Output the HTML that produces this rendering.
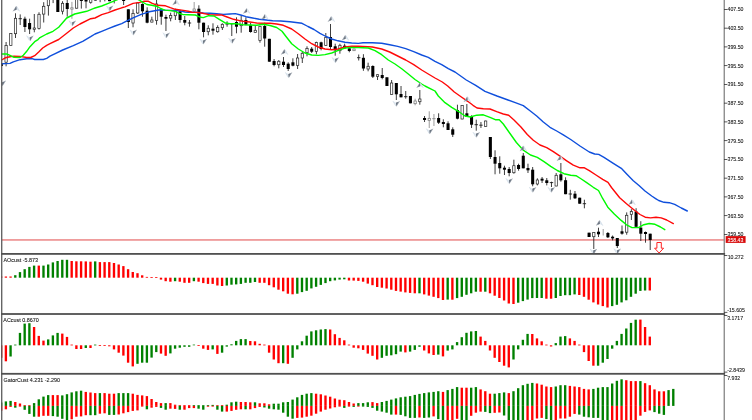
<!DOCTYPE html>
<html><head><meta charset="utf-8"><title>chart</title>
<style>html,body{margin:0;padding:0;background:#fff;overflow:hidden}svg{display:block}</style>
</head><body>
<svg width="752" height="420" viewBox="0 0 752 420">
<rect width="752" height="420" fill="#fff"/>
<defs><clipPath id="c"><rect x="1.2" y="0" width="723" height="420"/></clipPath></defs><g clip-path="url(#c)">
<rect x="2" y="239.35" width="722.5" height="1.2" fill="#e66868"/>
<line x1="1.4" y1="63" x2="1.4" y2="66" stroke="#1a1a1a" stroke-width="0.85"/>
<rect x="-0.12" y="63" width="3.05" height="3" fill="#000"/>
<line x1="6.1" y1="42" x2="6.1" y2="66.3" stroke="#1a1a1a" stroke-width="0.85"/>
<rect x="4.95" y="45.6" width="2.3" height="16.6" fill="#fff" stroke="#2a2a2a" stroke-width="0.72"/>
<line x1="10.8" y1="33.3" x2="10.8" y2="45.7" stroke="#1a1a1a" stroke-width="0.85"/>
<rect x="9.65" y="33.6" width="2.3" height="11.8" fill="#fff" stroke="#2a2a2a" stroke-width="0.72"/>
<line x1="15.5" y1="13.3" x2="15.5" y2="38" stroke="#1a1a1a" stroke-width="0.85"/>
<rect x="14.35" y="18.3" width="2.3" height="15.4" fill="#fff" stroke="#2a2a2a" stroke-width="0.72"/>
<line x1="20.21" y1="14.4" x2="20.21" y2="25" stroke="#1a1a1a" stroke-width="0.85"/>
<line x1="18.51" y1="18.7" x2="21.91" y2="18.7" stroke="#1a1a1a" stroke-width="0.9"/>
<line x1="24.91" y1="16.7" x2="24.91" y2="32" stroke="#1a1a1a" stroke-width="0.85"/>
<rect x="23.38" y="18.7" width="3.05" height="8.3" fill="#000"/>
<line x1="29.61" y1="18.7" x2="29.61" y2="34" stroke="#1a1a1a" stroke-width="0.85"/>
<rect x="28.08" y="23" width="3.05" height="6.3" fill="#000"/>
<line x1="34.31" y1="14" x2="34.31" y2="32.3" stroke="#1a1a1a" stroke-width="0.85"/>
<rect x="33.16" y="28" width="2.3" height="1.3" fill="#fff" stroke="#2a2a2a" stroke-width="0.72"/>
<line x1="39.01" y1="12.3" x2="39.01" y2="29.5" stroke="#1a1a1a" stroke-width="0.85"/>
<rect x="37.86" y="14.3" width="2.3" height="14.1" fill="#fff" stroke="#2a2a2a" stroke-width="0.72"/>
<line x1="43.71" y1="2.2" x2="43.71" y2="22.5" stroke="#1a1a1a" stroke-width="0.85"/>
<rect x="42.56" y="6.3" width="2.3" height="7.8" fill="#fff" stroke="#2a2a2a" stroke-width="0.72"/>
<line x1="48.41" y1="-5" x2="48.41" y2="15.6" stroke="#1a1a1a" stroke-width="0.85"/>
<rect x="47.27" y="-4.7" width="2.3" height="10.4" fill="#fff" stroke="#2a2a2a" stroke-width="0.72"/>
<line x1="53.12" y1="-10" x2="53.12" y2="3.1" stroke="#1a1a1a" stroke-width="0.85"/>
<line x1="51.42" y1="-8" x2="54.82" y2="-8" stroke="#1a1a1a" stroke-width="0.9"/>
<line x1="57.82" y1="-10" x2="57.82" y2="12" stroke="#1a1a1a" stroke-width="0.85"/>
<rect x="56.29" y="-10" width="3.05" height="22" fill="#000"/>
<line x1="62.52" y1="1.2" x2="62.52" y2="14.4" stroke="#1a1a1a" stroke-width="0.85"/>
<rect x="61.37" y="3.3" width="2.3" height="7.9" fill="#fff" stroke="#2a2a2a" stroke-width="0.72"/>
<line x1="67.22" y1="-1" x2="67.22" y2="16.7" stroke="#1a1a1a" stroke-width="0.85"/>
<rect x="65.7" y="3" width="3.05" height="6" fill="#000"/>
<line x1="71.92" y1="1.9" x2="71.92" y2="18.8" stroke="#8a8a8a" stroke-width="0.85"/>
<rect x="70.77" y="7.8" width="2.3" height="1.3" fill="#fff" stroke="#777" stroke-width="0.72"/>
<line x1="76.62" y1="-5" x2="76.62" y2="8.5" stroke="#1a1a1a" stroke-width="0.85"/>
<rect x="75.47" y="-4.7" width="2.3" height="12.9" fill="#fff" stroke="#2a2a2a" stroke-width="0.72"/>
<line x1="81.33" y1="-5" x2="81.33" y2="8.6" stroke="#1a1a1a" stroke-width="0.85"/>
<rect x="79.8" y="-5" width="3.05" height="6" fill="#000"/>
<line x1="86.03" y1="-5" x2="86.03" y2="8.3" stroke="#1a1a1a" stroke-width="0.85"/>
<rect x="84.5" y="-5" width="3.05" height="6.5" fill="#000"/>
<line x1="90.73" y1="-5" x2="90.73" y2="3.7" stroke="#1a1a1a" stroke-width="0.85"/>
<rect x="89.58" y="-4.7" width="2.3" height="7" fill="#fff" stroke="#2a2a2a" stroke-width="0.72"/>
<line x1="95.43" y1="-5" x2="95.43" y2="0.5" stroke="#1a1a1a" stroke-width="0.85"/>
<rect x="93.91" y="-5" width="3.05" height="5.5" fill="#000"/>
<line x1="100.13" y1="-10" x2="100.13" y2="2.2" stroke="#1a1a1a" stroke-width="0.85"/>
<line x1="98.43" y1="-8" x2="101.83" y2="-8" stroke="#1a1a1a" stroke-width="0.9"/>
<line x1="104.83" y1="-10" x2="104.83" y2="1.4" stroke="#1a1a1a" stroke-width="0.85"/>
<line x1="103.13" y1="-8" x2="106.53" y2="-8" stroke="#1a1a1a" stroke-width="0.9"/>
<line x1="109.53" y1="-5" x2="109.53" y2="1.2" stroke="#1a1a1a" stroke-width="0.85"/>
<rect x="108.01" y="-5" width="3.05" height="6.2" fill="#000"/>
<line x1="114.24" y1="-10" x2="114.24" y2="3.4" stroke="#1a1a1a" stroke-width="0.85"/>
<line x1="112.54" y1="-8" x2="115.94" y2="-8" stroke="#1a1a1a" stroke-width="0.9"/>
<line x1="123.64" y1="-5" x2="123.64" y2="5" stroke="#1a1a1a" stroke-width="0.85"/>
<rect x="122.11" y="-5" width="3.05" height="6" fill="#000"/>
<line x1="128.34" y1="9.3" x2="128.34" y2="28" stroke="#1a1a1a" stroke-width="0.85"/>
<rect x="126.82" y="9.3" width="3.05" height="12.7" fill="#000"/>
<line x1="133.04" y1="9.3" x2="133.04" y2="27.3" stroke="#1a1a1a" stroke-width="0.85"/>
<rect x="131.89" y="13.6" width="2.3" height="9.4" fill="#fff" stroke="#2a2a2a" stroke-width="0.72"/>
<line x1="137.74" y1="2" x2="137.74" y2="14" stroke="#1a1a1a" stroke-width="0.85"/>
<rect x="136.59" y="3" width="2.3" height="10" fill="#fff" stroke="#2a2a2a" stroke-width="0.72"/>
<line x1="142.45" y1="3.3" x2="142.45" y2="16.7" stroke="#1a1a1a" stroke-width="0.85"/>
<rect x="140.92" y="4" width="3.05" height="7.3" fill="#000"/>
<line x1="147.15" y1="7.3" x2="147.15" y2="23.3" stroke="#1a1a1a" stroke-width="0.85"/>
<rect x="145.62" y="10.7" width="3.05" height="12" fill="#000"/>
<line x1="151.85" y1="16.7" x2="151.85" y2="22.4" stroke="#1a1a1a" stroke-width="0.85"/>
<rect x="150.7" y="20" width="2.3" height="2.1" fill="#fff" stroke="#2a2a2a" stroke-width="0.72"/>
<line x1="156.55" y1="-2" x2="156.55" y2="24.7" stroke="#1a1a1a" stroke-width="0.85"/>
<rect x="155.4" y="4" width="2.3" height="16.4" fill="#fff" stroke="#2a2a2a" stroke-width="0.72"/>
<line x1="161.25" y1="9.3" x2="161.25" y2="24.7" stroke="#1a1a1a" stroke-width="0.85"/>
<rect x="159.73" y="10" width="3.05" height="6.7" fill="#000"/>
<line x1="165.95" y1="14.7" x2="165.95" y2="31" stroke="#1a1a1a" stroke-width="0.85"/>
<rect x="164.43" y="17" width="3.05" height="1.7" fill="#000"/>
<line x1="170.65" y1="12.7" x2="170.65" y2="21.3" stroke="#1a1a1a" stroke-width="0.85"/>
<rect x="169.5" y="15.6" width="2.3" height="2.5" fill="#fff" stroke="#2a2a2a" stroke-width="0.72"/>
<line x1="175.36" y1="8.7" x2="175.36" y2="20" stroke="#1a1a1a" stroke-width="0.85"/>
<rect x="174.21" y="11.6" width="2.3" height="4.1" fill="#fff" stroke="#2a2a2a" stroke-width="0.72"/>
<line x1="180.06" y1="10" x2="180.06" y2="22.7" stroke="#1a1a1a" stroke-width="0.85"/>
<rect x="178.53" y="11.3" width="3.05" height="8.7" fill="#000"/>
<line x1="184.76" y1="16" x2="184.76" y2="25.3" stroke="#1a1a1a" stroke-width="0.85"/>
<rect x="183.23" y="20" width="3.05" height="2.7" fill="#000"/>
<line x1="189.46" y1="20" x2="189.46" y2="26.7" stroke="#1a1a1a" stroke-width="0.85"/>
<line x1="187.76" y1="23" x2="191.16" y2="23" stroke="#1a1a1a" stroke-width="0.9"/>
<line x1="194.16" y1="2" x2="194.16" y2="12.7" stroke="#8a8a8a" stroke-width="0.85"/>
<rect x="193.01" y="9" width="2.3" height="2" fill="#fff" stroke="#777" stroke-width="0.72"/>
<line x1="198.86" y1="5.3" x2="198.86" y2="29.3" stroke="#1a1a1a" stroke-width="0.85"/>
<rect x="197.34" y="8.7" width="3.05" height="14" fill="#000"/>
<line x1="203.56" y1="22.7" x2="203.56" y2="37.3" stroke="#1a1a1a" stroke-width="0.85"/>
<rect x="202.04" y="22.7" width="3.05" height="9.3" fill="#000"/>
<line x1="208.27" y1="25.3" x2="208.27" y2="35.3" stroke="#1a1a1a" stroke-width="0.85"/>
<rect x="207.12" y="28.3" width="2.3" height="3.4" fill="#fff" stroke="#2a2a2a" stroke-width="0.72"/>
<line x1="212.97" y1="23.3" x2="212.97" y2="34.7" stroke="#1a1a1a" stroke-width="0.85"/>
<rect x="211.44" y="28.7" width="3.05" height="2" fill="#000"/>
<line x1="217.67" y1="25.3" x2="217.67" y2="32.7" stroke="#1a1a1a" stroke-width="0.85"/>
<rect x="216.52" y="27.6" width="2.3" height="4.1" fill="#fff" stroke="#2a2a2a" stroke-width="0.72"/>
<line x1="222.37" y1="23.3" x2="222.37" y2="30" stroke="#1a1a1a" stroke-width="0.85"/>
<rect x="221.22" y="24.3" width="2.3" height="3.4" fill="#fff" stroke="#2a2a2a" stroke-width="0.72"/>
<line x1="227.07" y1="21.3" x2="227.07" y2="26.7" stroke="#1a1a1a" stroke-width="0.85"/>
<line x1="225.37" y1="24" x2="228.77" y2="24" stroke="#1a1a1a" stroke-width="0.9"/>
<line x1="231.77" y1="23" x2="231.77" y2="36" stroke="#1a1a1a" stroke-width="0.85"/>
<line x1="230.07" y1="23.7" x2="233.47" y2="23.7" stroke="#1a1a1a" stroke-width="0.9"/>
<line x1="236.48" y1="17.3" x2="236.48" y2="33.3" stroke="#1a1a1a" stroke-width="0.85"/>
<rect x="234.95" y="22" width="3.05" height="4.7" fill="#000"/>
<line x1="241.18" y1="15.3" x2="241.18" y2="32.7" stroke="#1a1a1a" stroke-width="0.85"/>
<rect x="240.03" y="20.3" width="2.3" height="5.4" fill="#fff" stroke="#2a2a2a" stroke-width="0.72"/>
<line x1="245.88" y1="17.3" x2="245.88" y2="25.3" stroke="#1a1a1a" stroke-width="0.85"/>
<rect x="244.35" y="20" width="3.05" height="4.7" fill="#000"/>
<line x1="250.58" y1="22.7" x2="250.58" y2="32.7" stroke="#1a1a1a" stroke-width="0.85"/>
<rect x="249.05" y="25.3" width="3.05" height="6.7" fill="#000"/>
<line x1="255.28" y1="26" x2="255.28" y2="32.7" stroke="#1a1a1a" stroke-width="0.85"/>
<rect x="254.13" y="30.3" width="2.3" height="2.1" fill="#fff" stroke="#2a2a2a" stroke-width="0.72"/>
<line x1="259.98" y1="26" x2="259.98" y2="42.7" stroke="#1a1a1a" stroke-width="0.85"/>
<rect x="258.83" y="26.3" width="2.3" height="14.1" fill="#fff" stroke="#2a2a2a" stroke-width="0.72"/>
<line x1="264.68" y1="22.7" x2="264.68" y2="46.7" stroke="#1a1a1a" stroke-width="0.85"/>
<rect x="263.16" y="26" width="3.05" height="12.5" fill="#000"/>
<line x1="269.39" y1="38.8" x2="269.39" y2="61.7" stroke="#1a1a1a" stroke-width="0.85"/>
<rect x="267.86" y="38.8" width="3.05" height="22.9" fill="#000"/>
<line x1="274.09" y1="59" x2="274.09" y2="66.3" stroke="#1a1a1a" stroke-width="0.85"/>
<rect x="272.56" y="61" width="3.05" height="4" fill="#000"/>
<line x1="278.79" y1="60" x2="278.79" y2="68.3" stroke="#1a1a1a" stroke-width="0.85"/>
<rect x="277.64" y="61.3" width="2.3" height="3.4" fill="#fff" stroke="#2a2a2a" stroke-width="0.72"/>
<line x1="283.49" y1="57" x2="283.49" y2="67" stroke="#1a1a1a" stroke-width="0.85"/>
<rect x="281.97" y="61.7" width="3.05" height="3.3" fill="#000"/>
<line x1="288.19" y1="62.3" x2="288.19" y2="71" stroke="#1a1a1a" stroke-width="0.85"/>
<rect x="286.67" y="63.7" width="3.05" height="5.3" fill="#000"/>
<line x1="292.89" y1="58.3" x2="292.89" y2="66.3" stroke="#1a1a1a" stroke-width="0.85"/>
<rect x="291.37" y="62.3" width="3.05" height="3.4" fill="#000"/>
<line x1="297.59" y1="54" x2="297.59" y2="69" stroke="#1a1a1a" stroke-width="0.85"/>
<rect x="296.44" y="58" width="2.3" height="7.4" fill="#fff" stroke="#2a2a2a" stroke-width="0.72"/>
<line x1="302.3" y1="51.7" x2="302.3" y2="63" stroke="#1a1a1a" stroke-width="0.85"/>
<rect x="301.15" y="53.3" width="2.3" height="4.7" fill="#fff" stroke="#2a2a2a" stroke-width="0.72"/>
<line x1="307" y1="46.3" x2="307" y2="56.3" stroke="#1a1a1a" stroke-width="0.85"/>
<rect x="305.85" y="48.6" width="2.3" height="4.1" fill="#fff" stroke="#2a2a2a" stroke-width="0.72"/>
<line x1="311.7" y1="47" x2="311.7" y2="53" stroke="#1a1a1a" stroke-width="0.85"/>
<rect x="310.17" y="48.7" width="3.05" height="3" fill="#000"/>
<line x1="316.4" y1="41.7" x2="316.4" y2="54.3" stroke="#1a1a1a" stroke-width="0.85"/>
<rect x="315.25" y="42.6" width="2.3" height="8.8" fill="#fff" stroke="#2a2a2a" stroke-width="0.72"/>
<line x1="321.1" y1="41.7" x2="321.1" y2="50.3" stroke="#1a1a1a" stroke-width="0.85"/>
<rect x="319.58" y="42.3" width="3.05" height="6.7" fill="#000"/>
<line x1="325.8" y1="33" x2="325.8" y2="45.7" stroke="#1a1a1a" stroke-width="0.85"/>
<rect x="324.65" y="37.3" width="2.3" height="8.1" fill="#fff" stroke="#2a2a2a" stroke-width="0.72"/>
<line x1="330.5" y1="24" x2="330.5" y2="49.7" stroke="#1a1a1a" stroke-width="0.85"/>
<rect x="328.98" y="37" width="3.05" height="10" fill="#000"/>
<line x1="335.21" y1="43.7" x2="335.21" y2="55.7" stroke="#1a1a1a" stroke-width="0.85"/>
<rect x="333.68" y="46.3" width="3.05" height="4" fill="#000"/>
<line x1="339.91" y1="43.7" x2="339.91" y2="53.7" stroke="#1a1a1a" stroke-width="0.85"/>
<rect x="338.76" y="45.3" width="2.3" height="5.4" fill="#fff" stroke="#2a2a2a" stroke-width="0.72"/>
<line x1="344.61" y1="43.7" x2="344.61" y2="49" stroke="#1a1a1a" stroke-width="0.85"/>
<rect x="343.08" y="45.7" width="3.05" height="2.6" fill="#000"/>
<line x1="349.31" y1="48.3" x2="349.31" y2="52.3" stroke="#1a1a1a" stroke-width="0.85"/>
<rect x="347.79" y="48.3" width="3.05" height="2.7" fill="#000"/>
<line x1="354.01" y1="48.7" x2="354.01" y2="51" stroke="#8a8a8a" stroke-width="0.85"/>
<rect x="352.86" y="49" width="2.3" height="1.7" fill="#fff" stroke="#777" stroke-width="0.72"/>
<line x1="358.71" y1="54.5" x2="358.71" y2="60.5" stroke="#1a1a1a" stroke-width="0.85"/>
<line x1="357.01" y1="57.7" x2="360.41" y2="57.7" stroke="#1a1a1a" stroke-width="0.9"/>
<line x1="363.42" y1="54.2" x2="363.42" y2="70.8" stroke="#1a1a1a" stroke-width="0.85"/>
<rect x="361.89" y="57.8" width="3.05" height="10.7" fill="#000"/>
<line x1="368.12" y1="62.7" x2="368.12" y2="71.3" stroke="#1a1a1a" stroke-width="0.85"/>
<rect x="366.97" y="66.3" width="2.3" height="2.7" fill="#fff" stroke="#2a2a2a" stroke-width="0.72"/>
<line x1="372.82" y1="65.3" x2="372.82" y2="78" stroke="#1a1a1a" stroke-width="0.85"/>
<rect x="371.29" y="66" width="3.05" height="10.7" fill="#000"/>
<line x1="377.52" y1="74.4" x2="377.52" y2="80" stroke="#1a1a1a" stroke-width="0.85"/>
<rect x="376.37" y="74.7" width="2.3" height="1.7" fill="#fff" stroke="#2a2a2a" stroke-width="0.72"/>
<line x1="382.22" y1="68" x2="382.22" y2="79.3" stroke="#1a1a1a" stroke-width="0.85"/>
<rect x="380.7" y="75" width="3.05" height="3" fill="#000"/>
<line x1="386.92" y1="77.3" x2="386.92" y2="86" stroke="#1a1a1a" stroke-width="0.85"/>
<rect x="385.4" y="77.3" width="3.05" height="8.7" fill="#000"/>
<line x1="391.62" y1="80" x2="391.62" y2="94.7" stroke="#1a1a1a" stroke-width="0.85"/>
<rect x="390.47" y="83" width="2.3" height="11.4" fill="#fff" stroke="#2a2a2a" stroke-width="0.72"/>
<line x1="396.33" y1="83" x2="396.33" y2="100" stroke="#1a1a1a" stroke-width="0.85"/>
<rect x="394.8" y="83" width="3.05" height="11.3" fill="#000"/>
<line x1="401.03" y1="86" x2="401.03" y2="97.3" stroke="#1a1a1a" stroke-width="0.85"/>
<rect x="399.5" y="94" width="3.05" height="3.3" fill="#000"/>
<line x1="405.73" y1="91" x2="405.73" y2="98.7" stroke="#1a1a1a" stroke-width="0.85"/>
<line x1="404.03" y1="96.7" x2="407.43" y2="96.7" stroke="#1a1a1a" stroke-width="0.9"/>
<line x1="410.43" y1="96" x2="410.43" y2="103.3" stroke="#1a1a1a" stroke-width="0.85"/>
<rect x="408.91" y="96" width="3.05" height="7.3" fill="#000"/>
<line x1="415.13" y1="98.7" x2="415.13" y2="105.3" stroke="#8a8a8a" stroke-width="0.85"/>
<rect x="413.98" y="101" width="2.3" height="2.7" fill="#fff" stroke="#777" stroke-width="0.72"/>
<line x1="419.83" y1="90" x2="419.83" y2="104.7" stroke="#1a1a1a" stroke-width="0.85"/>
<rect x="418.68" y="99" width="2.3" height="2.7" fill="#fff" stroke="#2a2a2a" stroke-width="0.72"/>
<line x1="424.54" y1="116" x2="424.54" y2="122" stroke="#1a1a1a" stroke-width="0.85"/>
<rect x="423.01" y="118" width="3.05" height="2" fill="#000"/>
<line x1="429.24" y1="111.3" x2="429.24" y2="128" stroke="#8a8a8a" stroke-width="0.85"/>
<rect x="428.09" y="118.3" width="2.3" height="2.1" fill="#fff" stroke="#777" stroke-width="0.72"/>
<line x1="433.94" y1="114" x2="433.94" y2="126" stroke="#8a8a8a" stroke-width="0.85"/>
<line x1="432.24" y1="118.7" x2="435.64" y2="118.7" stroke="#8a8a8a" stroke-width="0.9"/>
<line x1="438.64" y1="113.3" x2="438.64" y2="124" stroke="#1a1a1a" stroke-width="0.85"/>
<rect x="437.11" y="118" width="3.05" height="4.7" fill="#000"/>
<line x1="443.34" y1="119.3" x2="443.34" y2="127.3" stroke="#1a1a1a" stroke-width="0.85"/>
<rect x="441.82" y="122" width="3.05" height="2" fill="#000"/>
<line x1="448.04" y1="121.3" x2="448.04" y2="130" stroke="#1a1a1a" stroke-width="0.85"/>
<rect x="446.52" y="123.3" width="3.05" height="6.7" fill="#000"/>
<line x1="452.74" y1="127.3" x2="452.74" y2="137" stroke="#1a1a1a" stroke-width="0.85"/>
<rect x="451.22" y="129.3" width="3.05" height="5.4" fill="#000"/>
<line x1="457.45" y1="104.7" x2="457.45" y2="119.3" stroke="#1a1a1a" stroke-width="0.85"/>
<rect x="455.92" y="110" width="3.05" height="8.7" fill="#000"/>
<line x1="462.15" y1="105.3" x2="462.15" y2="119.3" stroke="#1a1a1a" stroke-width="0.85"/>
<rect x="461" y="105.6" width="2.3" height="13.4" fill="#fff" stroke="#2a2a2a" stroke-width="0.72"/>
<line x1="466.85" y1="104" x2="466.85" y2="116.7" stroke="#1a1a1a" stroke-width="0.85"/>
<rect x="465.32" y="113.3" width="3.05" height="3.4" fill="#000"/>
<line x1="471.55" y1="115.3" x2="471.55" y2="128" stroke="#1a1a1a" stroke-width="0.85"/>
<rect x="470.03" y="116.5" width="3.05" height="8.2" fill="#000"/>
<line x1="476.25" y1="119.7" x2="476.25" y2="130.7" stroke="#1a1a1a" stroke-width="0.85"/>
<line x1="474.55" y1="124.7" x2="477.95" y2="124.7" stroke="#1a1a1a" stroke-width="0.9"/>
<line x1="480.95" y1="122" x2="480.95" y2="128" stroke="#1a1a1a" stroke-width="0.85"/>
<line x1="479.25" y1="125.2" x2="482.65" y2="125.2" stroke="#1a1a1a" stroke-width="0.9"/>
<line x1="485.65" y1="120.7" x2="485.65" y2="126.7" stroke="#1a1a1a" stroke-width="0.85"/>
<rect x="484.5" y="121" width="2.3" height="5.4" fill="#fff" stroke="#2a2a2a" stroke-width="0.72"/>
<line x1="490.36" y1="137" x2="490.36" y2="159" stroke="#1a1a1a" stroke-width="0.85"/>
<rect x="488.83" y="137" width="3.05" height="20" fill="#000"/>
<line x1="495.06" y1="150.3" x2="495.06" y2="174.3" stroke="#1a1a1a" stroke-width="0.85"/>
<rect x="493.53" y="157" width="3.05" height="6.7" fill="#000"/>
<line x1="499.76" y1="156.3" x2="499.76" y2="173.7" stroke="#1a1a1a" stroke-width="0.85"/>
<rect x="498.23" y="163" width="3.05" height="5.3" fill="#000"/>
<line x1="504.46" y1="165.7" x2="504.46" y2="175" stroke="#1a1a1a" stroke-width="0.85"/>
<rect x="502.94" y="167.7" width="3.05" height="2" fill="#000"/>
<line x1="509.16" y1="167" x2="509.16" y2="176.3" stroke="#1a1a1a" stroke-width="0.85"/>
<rect x="507.64" y="169" width="3.05" height="4" fill="#000"/>
<line x1="513.86" y1="159.7" x2="513.86" y2="173.7" stroke="#1a1a1a" stroke-width="0.85"/>
<rect x="512.71" y="165.7" width="2.3" height="7" fill="#fff" stroke="#2a2a2a" stroke-width="0.72"/>
<line x1="518.57" y1="163.7" x2="518.57" y2="170.7" stroke="#1a1a1a" stroke-width="0.85"/>
<rect x="517.04" y="165" width="3.05" height="4" fill="#000"/>
<line x1="523.27" y1="153" x2="523.27" y2="168.3" stroke="#1a1a1a" stroke-width="0.85"/>
<rect x="521.74" y="155.7" width="3.05" height="12.6" fill="#000"/>
<line x1="527.97" y1="163.7" x2="527.97" y2="173" stroke="#1a1a1a" stroke-width="0.85"/>
<rect x="526.44" y="168" width="3.05" height="2.3" fill="#000"/>
<line x1="532.67" y1="167" x2="532.67" y2="186.3" stroke="#1a1a1a" stroke-width="0.85"/>
<rect x="531.14" y="169.7" width="3.05" height="14.6" fill="#000"/>
<line x1="537.37" y1="178.3" x2="537.37" y2="185.4" stroke="#1a1a1a" stroke-width="0.85"/>
<rect x="536.22" y="180" width="2.3" height="4" fill="#fff" stroke="#2a2a2a" stroke-width="0.72"/>
<line x1="542.07" y1="177" x2="542.07" y2="183" stroke="#1a1a1a" stroke-width="0.85"/>
<rect x="540.55" y="178.7" width="3.05" height="1.9" fill="#000"/>
<line x1="546.77" y1="178" x2="546.77" y2="185.4" stroke="#1a1a1a" stroke-width="0.85"/>
<rect x="545.25" y="180.3" width="3.05" height="2.7" fill="#000"/>
<line x1="551.48" y1="181.7" x2="551.48" y2="187" stroke="#1a1a1a" stroke-width="0.85"/>
<line x1="549.78" y1="182.6" x2="553.18" y2="182.6" stroke="#1a1a1a" stroke-width="0.9"/>
<line x1="556.18" y1="173" x2="556.18" y2="186.3" stroke="#1a1a1a" stroke-width="0.85"/>
<rect x="555.03" y="175.3" width="2.3" height="10.7" fill="#fff" stroke="#2a2a2a" stroke-width="0.72"/>
<line x1="560.88" y1="163" x2="560.88" y2="181.7" stroke="#1a1a1a" stroke-width="0.85"/>
<rect x="559.35" y="174.3" width="3.05" height="6" fill="#000"/>
<line x1="565.58" y1="177.3" x2="565.58" y2="194.2" stroke="#1a1a1a" stroke-width="0.85"/>
<rect x="564.06" y="180.2" width="3.05" height="14" fill="#000"/>
<line x1="570.28" y1="189.8" x2="570.28" y2="199.7" stroke="#1a1a1a" stroke-width="0.85"/>
<line x1="568.58" y1="194" x2="571.98" y2="194" stroke="#1a1a1a" stroke-width="0.9"/>
<line x1="574.98" y1="191" x2="574.98" y2="199" stroke="#1a1a1a" stroke-width="0.85"/>
<rect x="573.46" y="193.7" width="3.05" height="4.6" fill="#000"/>
<line x1="579.68" y1="197.7" x2="579.68" y2="203.7" stroke="#1a1a1a" stroke-width="0.85"/>
<rect x="578.16" y="197.7" width="3.05" height="6" fill="#000"/>
<line x1="584.39" y1="199.7" x2="584.39" y2="208.3" stroke="#1a1a1a" stroke-width="0.85"/>
<line x1="582.69" y1="203.7" x2="586.09" y2="203.7" stroke="#1a1a1a" stroke-width="0.9"/>
<line x1="589.09" y1="232.7" x2="589.09" y2="237" stroke="#1a1a1a" stroke-width="0.85"/>
<rect x="587.56" y="232.7" width="3.05" height="4.3" fill="#000"/>
<line x1="593.79" y1="232.3" x2="593.79" y2="249" stroke="#1a1a1a" stroke-width="0.85"/>
<rect x="592.64" y="232.6" width="2.3" height="4.1" fill="#fff" stroke="#2a2a2a" stroke-width="0.72"/>
<line x1="598.49" y1="227.7" x2="598.49" y2="237" stroke="#1a1a1a" stroke-width="0.85"/>
<rect x="596.97" y="231.7" width="3.05" height="2.6" fill="#000"/>
<line x1="603.19" y1="229" x2="603.19" y2="235.5" stroke="#8a8a8a" stroke-width="0.85"/>
<line x1="607.89" y1="232" x2="607.89" y2="238" stroke="#1a1a1a" stroke-width="0.85"/>
<rect x="606.37" y="233" width="3.05" height="4.3" fill="#000"/>
<line x1="612.6" y1="235.5" x2="612.6" y2="240.4" stroke="#1a1a1a" stroke-width="0.85"/>
<rect x="611.07" y="236.7" width="3.05" height="1.7" fill="#000"/>
<line x1="617.3" y1="238" x2="617.3" y2="248" stroke="#1a1a1a" stroke-width="0.85"/>
<rect x="615.77" y="238" width="3.05" height="8" fill="#000"/>
<line x1="622" y1="225.5" x2="622" y2="234.7" stroke="#1a1a1a" stroke-width="0.85"/>
<rect x="620.47" y="231.3" width="3.05" height="2.4" fill="#000"/>
<line x1="626.7" y1="212.4" x2="626.7" y2="234.7" stroke="#1a1a1a" stroke-width="0.85"/>
<rect x="625.55" y="215.3" width="2.3" height="16.9" fill="#fff" stroke="#2a2a2a" stroke-width="0.72"/>
<line x1="631.4" y1="209.2" x2="631.4" y2="220" stroke="#1a1a1a" stroke-width="0.85"/>
<rect x="630.25" y="211.6" width="2.3" height="2.9" fill="#fff" stroke="#2a2a2a" stroke-width="0.72"/>
<line x1="636.1" y1="208.2" x2="636.1" y2="226.8" stroke="#1a1a1a" stroke-width="0.85"/>
<rect x="634.58" y="211.5" width="3.05" height="15.3" fill="#000"/>
<line x1="640.8" y1="221.2" x2="640.8" y2="241" stroke="#1a1a1a" stroke-width="0.85"/>
<rect x="639.28" y="227.6" width="3.05" height="6.1" fill="#000"/>
<line x1="645.51" y1="231.5" x2="645.51" y2="242.7" stroke="#1a1a1a" stroke-width="0.85"/>
<rect x="643.98" y="232" width="3.05" height="2" fill="#000"/>
<line x1="650.21" y1="233.7" x2="650.21" y2="250" stroke="#1a1a1a" stroke-width="0.85"/>
<rect x="648.68" y="233.7" width="3.05" height="6.3" fill="#000"/>
<polyline points="1.6,63.8 10,63.4 13.3,61.8 20,59.7 26.7,58.7 32,58.7 34.7,59.5 43.3,59.5 46.7,58.3 50,56.2 54.7,53.8 62.7,50 73.3,45.6 82.7,41.3 90.7,36.7 95,34 101.7,31.3 108.3,28.7 115,26 121.7,23.6 125,21.9 133.1,17.8 141.2,14.3 149.3,11.8 157.4,10.2 160.6,9.7 165.5,10.1 173.6,10.5 180,10.9 185,12 188.3,12.2 195,12.2 203.3,13 210,13.3 216.7,13.7 223.3,14.4 230,14 235.3,13.6 240.7,15 246,16.7 252.7,18 259.3,19.3 266,20 272.7,20.7 280.7,21 290,21.7 302,23.3 308,26.5 314,29.5 320,33.3 326,36.5 331.7,39 338,40.8 345,42.2 351.7,43 358.3,43.4 363,42.7 372.3,42.7 381.7,43.3 389.7,44.7 397.7,46.4 405.7,48.7 413.7,51.7 421.7,55 428.3,57.3 435,61.3 441.7,64.7 448.3,68.7 455,72 466.3,80 475.7,85.3 485,91.3 497,96 508,100 515.3,102.7 523.3,105.6 530,110.7 536.7,116 543.3,122 550,127.3 556.7,131 563.3,134.8 570.7,139.5 580,146 589.3,152 594.7,154 598.7,154.4 604,157.3 613.3,163.3 621.3,168.3 626.7,174 633.3,180.7 639,185.5 645,191 651.7,196 656,198.8 658.7,200.5 664,202.3 669.3,202.7 674.7,204.4 681.3,208 687.3,211" fill="none" stroke="#0f4fdc" stroke-width="1.4" stroke-linejoin="round" stroke-linecap="round"/>
<polyline points="1.6,60 5.3,57.8 10,56.7 14,56.1 20,56.4 26.7,57.5 30.7,57.5 34.7,55.7 38.7,52 42.7,48 46.7,45.3 50,43.7 58.7,39.5 66.7,33.3 73.3,28 80,24 90.7,18.7 95,18 101.7,14.7 108.3,12.7 115,10 121.7,7.8 125,6.9 133.1,3.4 139.6,2.4 143.6,1.3 148.5,1.3 151.7,3.2 157.4,5.3 165.5,5.8 170.3,7.7 175.2,9.3 181.7,10.1 188.3,11.3 192,12.2 197.1,12.4 201.2,13 209.3,14.6 215,15 221.4,14.9 227.1,17 233.6,19.3 241.7,21.1 250,22 256.7,23 263.3,23.3 270,23.3 276.7,24 283.3,25.3 291.7,29 298.3,33.7 305,39 311.7,43.7 318.3,47 325,49 331.7,49.7 338.3,49 345,47 351.7,46.3 358.3,46.3 363,46.4 372.3,47 381.7,49 389.7,52 397.7,56 405.7,60 413.7,64.7 421.7,70 428.3,74 435,78 442.3,82 447.7,86 454.3,92 461,96.7 467.7,101.3 473,105.3 477,108 483.3,108.7 490,109 496.7,111.7 503.3,114 508.7,115.3 514,120 520.7,126.7 527.3,134.5 533.3,140.3 540,145 546.7,147.7 553.3,151.7 560,156.2 566.7,160.8 573.3,165.2 580,167.8 584,167.7 589.3,170.7 596,175 602.7,179.3 608,182.4 611.5,187.5 614.3,191 619.7,197.7 626.5,203.8 633.2,209.2 640,214.5 645.2,217.2 650.5,217.9 656,217.3 661.2,217.9 666.7,220 673.3,223.6" fill="none" stroke="#ff0808" stroke-width="1.4" stroke-linejoin="round" stroke-linecap="round"/>
<polyline points="1.6,54 6.7,54 10,55.3 14,57.4 20,57.5 23.3,55.2 26.7,51.3 30,46.7 34.7,41.7 38,39.6 40,37.6 46.7,34 53,31.3 58.7,27.3 66.7,18 74.7,14 86.7,11.3 93.3,8.7 95,8 101.7,6 108.3,3.3 115,0.7 120,-1.5 127,-3 135,-2 139.2,0 142.4,2.2 146.9,4.5 151.7,5.3 157.4,6.5 160.6,8.5 164.7,10.1 170.3,10.6 175.2,11.4 180.1,13.8 183.3,14.6 188.3,14.8 195.3,15 200.7,17.3 203.3,17.6 208.7,15.7 214,16 219.3,19.3 224.7,22.7 230,23.7 236.7,23.7 243.3,24.7 250,25 256.7,25.3 263.3,24.3 270,25.5 276.7,27.5 282,31.3 286,36.5 291.7,43.7 298.3,49 305,53 311.7,55 318.3,55.4 325,54.6 331.7,53 338.3,50.3 345,48 351.7,47.4 358.3,47.6 363,47.7 368.3,48 375,50.7 381.7,54.7 388.3,60 395,64 401.7,68.7 408.3,74 415,79.5 421.7,84 425,86 431.7,89.3 435,91 438.3,96 445,102.7 451.7,107.3 458.3,111.3 465,116 470.3,117 476.7,115.2 483.3,114.8 490,117.3 495.3,119.7 499.3,119.7 503.3,124 510,133.5 516.4,142.5 522.9,149.8 530.5,155 537.3,157.4 544,161.7 550.7,166.3 557.3,170.5 564,173.7 570.7,175.2 576,175.7 581.3,179 586.7,182.7 593.3,187.3 598.5,190.5 602.5,198.2 607.8,207.2 614.5,214.2 621.2,220.4 626.5,224.8 632,227.6 638.5,227.6 643.8,224.7 649.2,223.5 655,224.3 660.5,227 664.8,229.7" fill="none" stroke="#00fa00" stroke-width="1.4" stroke-linejoin="round" stroke-linecap="round"/>
<polygon points="16.4,5.7 19.9,11.5 16.55,9.7" fill="#dfe8f0"/><line x1="16.8" y1="6.3" x2="19.7" y2="11.4" stroke="#c9d5e0" stroke-width="0.5"/><polygon points="16.2,5.7 12.6,11.5 16.55,9.7" fill="#98a0aa"/><polygon points="16.3,6.3 14.4,10.3 16.55,9.6" fill="#66707d"/>
<polygon points="176.1,-0.6 179.6,5.2 176.25,3.4" fill="#dfe8f0"/><line x1="176.5" y1="0" x2="179.4" y2="5.1" stroke="#c9d5e0" stroke-width="0.5"/><polygon points="175.9,-0.6 172.3,5.2 176.25,3.4" fill="#98a0aa"/><polygon points="176,0 174.1,4 176.25,3.3" fill="#66707d"/>
<polygon points="246.8,8 250.3,13.8 246.95,12" fill="#dfe8f0"/><line x1="247.2" y1="8.6" x2="250.1" y2="13.7" stroke="#c9d5e0" stroke-width="0.5"/><polygon points="246.6,8 243,13.8 246.95,12" fill="#98a0aa"/><polygon points="246.7,8.6 244.8,12.6 246.95,11.9" fill="#66707d"/>
<polygon points="265.1,14 268.6,19.8 265.25,18" fill="#dfe8f0"/><line x1="265.5" y1="14.6" x2="268.4" y2="19.7" stroke="#c9d5e0" stroke-width="0.5"/><polygon points="264.9,14 261.3,19.8 265.25,18" fill="#98a0aa"/><polygon points="265,14.6 263.1,18.6 265.25,17.9" fill="#66707d"/>
<polygon points="284.6,49 288.1,54.8 284.75,53" fill="#dfe8f0"/><line x1="285" y1="49.6" x2="287.9" y2="54.7" stroke="#c9d5e0" stroke-width="0.5"/><polygon points="284.4,49 280.8,54.8 284.75,53" fill="#98a0aa"/><polygon points="284.5,49.6 282.6,53.6 284.75,52.9" fill="#66707d"/>
<polygon points="331.4,16.1 334.9,21.9 331.55,20.1" fill="#dfe8f0"/><line x1="331.8" y1="16.7" x2="334.7" y2="21.8" stroke="#c9d5e0" stroke-width="0.5"/><polygon points="331.2,16.1 327.6,21.9 331.55,20.1" fill="#98a0aa"/><polygon points="331.3,16.7 329.4,20.7 331.55,20" fill="#66707d"/>
<polygon points="345.5,34.8 349,40.6 345.65,38.8" fill="#dfe8f0"/><line x1="345.9" y1="35.4" x2="348.8" y2="40.5" stroke="#c9d5e0" stroke-width="0.5"/><polygon points="345.3,34.8 341.7,40.6 345.65,38.8" fill="#98a0aa"/><polygon points="345.4,35.4 343.5,39.4 345.65,38.7" fill="#66707d"/>
<polygon points="420.1,82.2 423.6,88 420.25,86.2" fill="#dfe8f0"/><line x1="420.5" y1="82.8" x2="423.4" y2="87.9" stroke="#c9d5e0" stroke-width="0.5"/><polygon points="419.9,82.2 416.3,88 420.25,86.2" fill="#98a0aa"/><polygon points="420,82.8 418.1,86.8 420.25,86.1" fill="#66707d"/>
<polygon points="467.4,96.3 470.9,102.1 467.55,100.3" fill="#dfe8f0"/><line x1="467.8" y1="96.9" x2="470.7" y2="102" stroke="#c9d5e0" stroke-width="0.5"/><polygon points="467.2,96.3 463.6,102.1 467.55,100.3" fill="#98a0aa"/><polygon points="467.3,96.9 465.4,100.9 467.55,100.2" fill="#66707d"/>
<polygon points="523.4,145.5 526.9,151.3 523.55,149.5" fill="#dfe8f0"/><line x1="523.8" y1="146.1" x2="526.7" y2="151.2" stroke="#c9d5e0" stroke-width="0.5"/><polygon points="523.2,145.5 519.6,151.3 523.55,149.5" fill="#98a0aa"/><polygon points="523.3,146.1 521.4,150.1 523.55,149.4" fill="#66707d"/>
<polygon points="560.5,155.3 564,161.1 560.65,159.3" fill="#dfe8f0"/><line x1="560.9" y1="155.9" x2="563.8" y2="161" stroke="#c9d5e0" stroke-width="0.5"/><polygon points="560.3,155.3 556.7,161.1 560.65,159.3" fill="#98a0aa"/><polygon points="560.4,155.9 558.5,159.9 560.65,159.2" fill="#66707d"/>
<polygon points="599.6,220 603.1,225.8 599.75,224" fill="#dfe8f0"/><line x1="600" y1="220.6" x2="602.9" y2="225.7" stroke="#c9d5e0" stroke-width="0.5"/><polygon points="599.4,220 595.8,225.8 599.75,224" fill="#98a0aa"/><polygon points="599.5,220.6 597.6,224.6 599.75,223.9" fill="#66707d"/>
<polygon points="632.1,199.3 635.6,205.1 632.25,203.3" fill="#dfe8f0"/><line x1="632.5" y1="199.9" x2="635.4" y2="205" stroke="#c9d5e0" stroke-width="0.5"/><polygon points="631.9,199.3 628.3,205.1 632.25,203.3" fill="#98a0aa"/><polygon points="632,199.9 630.1,203.9 632.25,203.2" fill="#66707d"/>
<polygon points="29.9,41.3 26.4,35.5 29.75,37.3" fill="#dfe8f0"/><line x1="29.5" y1="40.7" x2="26.6" y2="35.6" stroke="#c9d5e0" stroke-width="0.5"/><polygon points="30.1,41.3 33.7,35.5 29.75,37.3" fill="#98a0aa"/><polygon points="30,40.7 31.9,36.7 29.75,37.4" fill="#66707d"/>
<polygon points="72.3,26.3 68.8,20.5 72.15,22.3" fill="#dfe8f0"/><line x1="71.9" y1="25.7" x2="69" y2="20.6" stroke="#c9d5e0" stroke-width="0.5"/><polygon points="72.5,26.3 76.1,20.5 72.15,22.3" fill="#98a0aa"/><polygon points="72.4,25.7 74.3,21.7 72.15,22.4" fill="#66707d"/>
<polygon points="2.3,86.3 -1.2,80.5 2.15,82.3" fill="#dfe8f0"/><line x1="1.9" y1="85.7" x2="-1" y2="80.6" stroke="#c9d5e0" stroke-width="0.5"/><polygon points="2.5,86.3 6.1,80.5 2.15,82.3" fill="#98a0aa"/><polygon points="2.4,85.7 4.3,81.7 2.15,82.4" fill="#66707d"/>
<polygon points="109.6,11.3 106.1,5.5 109.45,7.3" fill="#dfe8f0"/><line x1="109.2" y1="10.7" x2="106.3" y2="5.6" stroke="#c9d5e0" stroke-width="0.5"/><polygon points="109.8,11.3 113.4,5.5 109.45,7.3" fill="#98a0aa"/><polygon points="109.7,10.7 111.6,6.7 109.45,7.4" fill="#66707d"/>
<polygon points="133.2,35.4 129.7,29.6 133.05,31.4" fill="#dfe8f0"/><line x1="132.8" y1="34.8" x2="129.9" y2="29.7" stroke="#c9d5e0" stroke-width="0.5"/><polygon points="133.4,35.4 137,29.6 133.05,31.4" fill="#98a0aa"/><polygon points="133.3,34.8 135.2,30.8 133.05,31.5" fill="#66707d"/>
<polygon points="166.2,38.3 162.7,32.5 166.05,34.3" fill="#dfe8f0"/><line x1="165.8" y1="37.7" x2="162.9" y2="32.6" stroke="#c9d5e0" stroke-width="0.5"/><polygon points="166.4,38.3 170,32.5 166.05,34.3" fill="#98a0aa"/><polygon points="166.3,37.7 168.2,33.7 166.05,34.4" fill="#66707d"/>
<polygon points="203.2,44.6 199.7,38.8 203.05,40.6" fill="#dfe8f0"/><line x1="202.8" y1="44" x2="199.9" y2="38.9" stroke="#c9d5e0" stroke-width="0.5"/><polygon points="203.4,44.6 207,38.8 203.05,40.6" fill="#98a0aa"/><polygon points="203.3,44 205.2,40 203.05,40.7" fill="#66707d"/>
<polygon points="231.9,43.7 228.4,37.9 231.75,39.7" fill="#dfe8f0"/><line x1="231.5" y1="43.1" x2="228.6" y2="38" stroke="#c9d5e0" stroke-width="0.5"/><polygon points="232.1,43.7 235.7,37.9 231.75,39.7" fill="#98a0aa"/><polygon points="232,43.1 233.9,39.1 231.75,39.8" fill="#66707d"/>
<polygon points="288.6,78 285.1,72.2 288.45,74" fill="#dfe8f0"/><line x1="288.2" y1="77.4" x2="285.3" y2="72.3" stroke="#c9d5e0" stroke-width="0.5"/><polygon points="288.8,78 292.4,72.2 288.45,74" fill="#98a0aa"/><polygon points="288.7,77.4 290.6,73.4 288.45,74.1" fill="#66707d"/>
<polygon points="335.3,63 331.8,57.2 335.15,59" fill="#dfe8f0"/><line x1="334.9" y1="62.4" x2="332" y2="57.3" stroke="#c9d5e0" stroke-width="0.5"/><polygon points="335.5,63 339.1,57.2 335.15,59" fill="#98a0aa"/><polygon points="335.4,62.4 337.3,58.4 335.15,59.1" fill="#66707d"/>
<polygon points="396.2,106.7 392.7,100.9 396.05,102.7" fill="#dfe8f0"/><line x1="395.8" y1="106.1" x2="392.9" y2="101" stroke="#c9d5e0" stroke-width="0.5"/><polygon points="396.4,106.7 400,100.9 396.05,102.7" fill="#98a0aa"/><polygon points="396.3,106.1 398.2,102.1 396.05,102.8" fill="#66707d"/>
<polygon points="429.6,134.3 426.1,128.5 429.45,130.3" fill="#dfe8f0"/><line x1="429.2" y1="133.7" x2="426.3" y2="128.6" stroke="#c9d5e0" stroke-width="0.5"/><polygon points="429.8,134.3 433.4,128.5 429.45,130.3" fill="#98a0aa"/><polygon points="429.7,133.7 431.6,129.7 429.45,130.4" fill="#66707d"/>
<polygon points="476.2,137.7 472.7,131.9 476.05,133.7" fill="#dfe8f0"/><line x1="475.8" y1="137.1" x2="472.9" y2="132" stroke="#c9d5e0" stroke-width="0.5"/><polygon points="476.4,137.7 480,131.9 476.05,133.7" fill="#98a0aa"/><polygon points="476.3,137.1 478.2,133.1 476.05,133.8" fill="#66707d"/>
<polygon points="509.2,184 505.7,178.2 509.05,180" fill="#dfe8f0"/><line x1="508.8" y1="183.4" x2="505.9" y2="178.3" stroke="#c9d5e0" stroke-width="0.5"/><polygon points="509.4,184 513,178.2 509.05,180" fill="#98a0aa"/><polygon points="509.3,183.4 511.2,179.4 509.05,180.1" fill="#66707d"/>
<polygon points="532.6,192.7 529.1,186.9 532.45,188.7" fill="#dfe8f0"/><line x1="532.2" y1="192.1" x2="529.3" y2="187" stroke="#c9d5e0" stroke-width="0.5"/><polygon points="532.8,192.7 536.4,186.9 532.45,188.7" fill="#98a0aa"/><polygon points="532.7,192.1 534.6,188.1 532.45,188.8" fill="#66707d"/>
<polygon points="551.2,192.7 547.7,186.9 551.05,188.7" fill="#dfe8f0"/><line x1="550.8" y1="192.1" x2="547.9" y2="187" stroke="#c9d5e0" stroke-width="0.5"/><polygon points="551.4,192.7 555,186.9 551.05,188.7" fill="#98a0aa"/><polygon points="551.3,192.1 553.2,188.1 551.05,188.8" fill="#66707d"/>
<polygon points="593.4,254.5 589.9,248.7 593.25,250.5" fill="#dfe8f0"/><line x1="593" y1="253.9" x2="590.1" y2="248.8" stroke="#c9d5e0" stroke-width="0.5"/><polygon points="593.6,254.5 597.2,248.7 593.25,250.5" fill="#98a0aa"/><polygon points="593.5,253.9 595.4,249.9 593.25,250.6" fill="#66707d"/>
<polygon points="617.2,254.3 613.7,248.5 617.05,250.3" fill="#dfe8f0"/><line x1="616.8" y1="253.7" x2="613.9" y2="248.6" stroke="#c9d5e0" stroke-width="0.5"/><polygon points="617.4,254.3 621,248.5 617.05,250.3" fill="#98a0aa"/><polygon points="617.3,253.7 619.2,249.7 617.05,250.4" fill="#66707d"/>
<path d="M656.9 242.5 H661.3 V248.2 H663.6 L659.1 253 L654.6 248.2 H656.9 Z" fill="#fff" stroke="#ff2222" stroke-width="1.0" stroke-linejoin="miter"/>
<rect x="0" y="276.5" width="2.35" height="1.2" fill="#ff0000"/>
<rect x="4.71" y="276.5" width="2.35" height="1.2" fill="#ff0000"/>
<rect x="9.4" y="276.5" width="2.35" height="1.2" fill="#ff0000"/>
<rect x="14.11" y="275.2" width="2.35" height="2.5" fill="#008000"/>
<rect x="18.8" y="272.1" width="2.35" height="5.6" fill="#008000"/>
<rect x="23.5" y="269.2" width="2.35" height="8.5" fill="#008000"/>
<rect x="28.21" y="266.9" width="2.35" height="10.8" fill="#008000"/>
<rect x="32.91" y="265.6" width="2.35" height="12.1" fill="#008000"/>
<rect x="37.61" y="265.6" width="2.35" height="12.1" fill="#ff0000"/>
<rect x="42.31" y="265.6" width="2.35" height="12.1" fill="#008000"/>
<rect x="47.01" y="264.5" width="2.35" height="13.2" fill="#008000"/>
<rect x="51.71" y="262.4" width="2.35" height="15.3" fill="#008000"/>
<rect x="56.41" y="261" width="2.35" height="16.7" fill="#008000"/>
<rect x="61.11" y="259.8" width="2.35" height="17.9" fill="#008000"/>
<rect x="65.81" y="259.8" width="2.35" height="17.9" fill="#008000"/>
<rect x="70.51" y="261" width="2.35" height="16.7" fill="#ff0000"/>
<rect x="75.21" y="261.3" width="2.35" height="16.4" fill="#ff0000"/>
<rect x="79.91" y="261.3" width="2.35" height="16.4" fill="#ff0000"/>
<rect x="84.61" y="261.4" width="2.35" height="16.3" fill="#ff0000"/>
<rect x="89.31" y="261.7" width="2.35" height="16" fill="#ff0000"/>
<rect x="94.01" y="261.4" width="2.35" height="16.3" fill="#008000"/>
<rect x="98.71" y="262.1" width="2.35" height="15.6" fill="#ff0000"/>
<rect x="103.41" y="262.1" width="2.35" height="15.6" fill="#ff0000"/>
<rect x="108.11" y="262.1" width="2.35" height="15.6" fill="#ff0000"/>
<rect x="112.81" y="263" width="2.35" height="14.7" fill="#ff0000"/>
<rect x="117.51" y="264.5" width="2.35" height="13.2" fill="#ff0000"/>
<rect x="122.21" y="266.1" width="2.35" height="11.6" fill="#ff0000"/>
<rect x="126.91" y="269.2" width="2.35" height="8.5" fill="#ff0000"/>
<rect x="131.6" y="272" width="2.35" height="5.7" fill="#ff0000"/>
<rect x="136.31" y="273.2" width="2.35" height="4.5" fill="#ff0000"/>
<rect x="141" y="275.3" width="2.35" height="2.4" fill="#ff0000"/>
<rect x="145.71" y="276.9" width="2.35" height="0.8" fill="#ff0000"/>
<rect x="150.41" y="277" width="2.35" height="0.8" fill="#ff0000"/>
<rect x="155.1" y="277" width="2.35" height="0.8" fill="#ff0000"/>
<rect x="159.81" y="277.7" width="2.35" height="1.9" fill="#ff0000"/>
<rect x="164.5" y="277.7" width="2.35" height="3.5" fill="#ff0000"/>
<rect x="169.21" y="277.7" width="2.35" height="4" fill="#ff0000"/>
<rect x="173.91" y="277.7" width="2.35" height="3.5" fill="#008000"/>
<rect x="178.6" y="277.7" width="2.35" height="4" fill="#ff0000"/>
<rect x="183.31" y="277.7" width="2.35" height="5.1" fill="#ff0000"/>
<rect x="188" y="277.7" width="2.35" height="5.1" fill="#ff0000"/>
<rect x="192.71" y="277.7" width="2.35" height="3.5" fill="#008000"/>
<rect x="197.41" y="277.7" width="2.35" height="4" fill="#ff0000"/>
<rect x="202.1" y="277.7" width="2.35" height="5.4" fill="#ff0000"/>
<rect x="206.81" y="277.7" width="2.35" height="6.2" fill="#ff0000"/>
<rect x="211.5" y="277.7" width="2.35" height="6.2" fill="#ff0000"/>
<rect x="216.21" y="277.7" width="2.35" height="7.8" fill="#ff0000"/>
<rect x="220.91" y="277.7" width="2.35" height="8.3" fill="#ff0000"/>
<rect x="225.61" y="277.7" width="2.35" height="7.8" fill="#008000"/>
<rect x="230.31" y="277.7" width="2.35" height="7" fill="#008000"/>
<rect x="235" y="277.7" width="2.35" height="6.7" fill="#008000"/>
<rect x="239.71" y="277.7" width="2.35" height="6.2" fill="#008000"/>
<rect x="244.41" y="277.7" width="2.35" height="5.1" fill="#008000"/>
<rect x="249.11" y="277.7" width="2.35" height="5.1" fill="#008000"/>
<rect x="253.81" y="277.7" width="2.35" height="4.3" fill="#008000"/>
<rect x="258.5" y="277.7" width="2.35" height="5.1" fill="#ff0000"/>
<rect x="263.2" y="277.7" width="2.35" height="5.1" fill="#ff0000"/>
<rect x="267.91" y="277.7" width="2.35" height="7.5" fill="#ff0000"/>
<rect x="272.61" y="277.7" width="2.35" height="9.6" fill="#ff0000"/>
<rect x="277.31" y="277.7" width="2.35" height="12" fill="#ff0000"/>
<rect x="282" y="277.7" width="2.35" height="13.6" fill="#ff0000"/>
<rect x="286.7" y="277.7" width="2.35" height="16" fill="#ff0000"/>
<rect x="291.41" y="277.7" width="2.35" height="16.6" fill="#ff0000"/>
<rect x="296.11" y="277.7" width="2.35" height="16" fill="#008000"/>
<rect x="300.81" y="277.7" width="2.35" height="14.4" fill="#008000"/>
<rect x="305.5" y="277.7" width="2.35" height="13.1" fill="#008000"/>
<rect x="310.2" y="277.7" width="2.35" height="10.7" fill="#008000"/>
<rect x="314.91" y="277.7" width="2.35" height="9.1" fill="#008000"/>
<rect x="319.61" y="277.7" width="2.35" height="7.2" fill="#008000"/>
<rect x="324.31" y="277.7" width="2.35" height="5.4" fill="#008000"/>
<rect x="329" y="277.7" width="2.35" height="3.5" fill="#008000"/>
<rect x="333.7" y="277.7" width="2.35" height="2.7" fill="#008000"/>
<rect x="338.41" y="277.7" width="2.35" height="1.9" fill="#008000"/>
<rect x="343.11" y="277.7" width="2.35" height="1.6" fill="#008000"/>
<rect x="347.81" y="277.7" width="2.35" height="2.8" fill="#ff0000"/>
<rect x="352.5" y="277.7" width="2.35" height="2.9" fill="#ff0000"/>
<rect x="357.2" y="277.7" width="2.35" height="3.2" fill="#ff0000"/>
<rect x="361.91" y="277.7" width="2.35" height="4" fill="#ff0000"/>
<rect x="366.61" y="277.7" width="2.35" height="5.9" fill="#ff0000"/>
<rect x="371.31" y="277.7" width="2.35" height="7.5" fill="#ff0000"/>
<rect x="376" y="277.7" width="2.35" height="9.3" fill="#ff0000"/>
<rect x="380.7" y="277.7" width="2.35" height="10" fill="#ff0000"/>
<rect x="385.41" y="277.7" width="2.35" height="10.8" fill="#ff0000"/>
<rect x="390.11" y="277.7" width="2.35" height="12" fill="#ff0000"/>
<rect x="394.81" y="277.7" width="2.35" height="13.2" fill="#ff0000"/>
<rect x="399.5" y="277.7" width="2.35" height="13.9" fill="#ff0000"/>
<rect x="404.2" y="277.7" width="2.35" height="14.7" fill="#ff0000"/>
<rect x="408.91" y="277.7" width="2.35" height="15.2" fill="#ff0000"/>
<rect x="413.61" y="277.7" width="2.35" height="15.6" fill="#ff0000"/>
<rect x="418.31" y="277.7" width="2.35" height="15.6" fill="#008000"/>
<rect x="423" y="277.7" width="2.35" height="16.7" fill="#ff0000"/>
<rect x="427.7" y="277.7" width="2.35" height="17.9" fill="#ff0000"/>
<rect x="432.41" y="277.7" width="2.35" height="19.1" fill="#ff0000"/>
<rect x="437.11" y="277.7" width="2.35" height="20.4" fill="#ff0000"/>
<rect x="441.81" y="277.7" width="2.35" height="22.3" fill="#ff0000"/>
<rect x="446.5" y="277.7" width="2.35" height="21.9" fill="#008000"/>
<rect x="451.21" y="277.7" width="2.35" height="22" fill="#ff0000"/>
<rect x="455.91" y="277.7" width="2.35" height="20.4" fill="#008000"/>
<rect x="460.61" y="277.7" width="2.35" height="19.1" fill="#008000"/>
<rect x="465.31" y="277.7" width="2.35" height="17.1" fill="#008000"/>
<rect x="470" y="277.7" width="2.35" height="15.6" fill="#008000"/>
<rect x="474.71" y="277.7" width="2.35" height="14" fill="#008000"/>
<rect x="479.41" y="277.7" width="2.35" height="14" fill="#ff0000"/>
<rect x="484.11" y="277.7" width="2.35" height="14" fill="#008000"/>
<rect x="488.81" y="277.7" width="2.35" height="15.6" fill="#ff0000"/>
<rect x="493.5" y="277.7" width="2.35" height="18" fill="#ff0000"/>
<rect x="498.21" y="277.7" width="2.35" height="20.3" fill="#ff0000"/>
<rect x="502.91" y="277.7" width="2.35" height="22.8" fill="#ff0000"/>
<rect x="507.61" y="277.7" width="2.35" height="25.8" fill="#ff0000"/>
<rect x="512.31" y="277.7" width="2.35" height="26.3" fill="#ff0000"/>
<rect x="517" y="277.7" width="2.35" height="25" fill="#008000"/>
<rect x="521.71" y="277.7" width="2.35" height="23.4" fill="#008000"/>
<rect x="526.4" y="277.7" width="2.35" height="21.9" fill="#008000"/>
<rect x="531.11" y="277.7" width="2.35" height="20.4" fill="#008000"/>
<rect x="535.81" y="277.7" width="2.35" height="20.3" fill="#008000"/>
<rect x="540.5" y="277.7" width="2.35" height="20.3" fill="#008000"/>
<rect x="545.21" y="277.7" width="2.35" height="21" fill="#ff0000"/>
<rect x="549.9" y="277.7" width="2.35" height="21" fill="#ff0000"/>
<rect x="554.61" y="277.7" width="2.35" height="20.3" fill="#008000"/>
<rect x="559.31" y="277.7" width="2.35" height="18.3" fill="#008000"/>
<rect x="564" y="277.7" width="2.35" height="17.5" fill="#008000"/>
<rect x="568.71" y="277.7" width="2.35" height="17.5" fill="#008000"/>
<rect x="573.4" y="277.7" width="2.35" height="16.7" fill="#008000"/>
<rect x="578.11" y="277.7" width="2.35" height="17.3" fill="#ff0000"/>
<rect x="582.81" y="277.7" width="2.35" height="19.1" fill="#ff0000"/>
<rect x="587.5" y="277.7" width="2.35" height="22" fill="#ff0000"/>
<rect x="592.21" y="277.7" width="2.35" height="24.7" fill="#ff0000"/>
<rect x="596.9" y="277.7" width="2.35" height="26.8" fill="#ff0000"/>
<rect x="601.61" y="277.7" width="2.35" height="28.4" fill="#ff0000"/>
<rect x="606.31" y="277.7" width="2.35" height="29.8" fill="#ff0000"/>
<rect x="611" y="277.7" width="2.35" height="28.4" fill="#008000"/>
<rect x="615.71" y="277.7" width="2.35" height="27.1" fill="#008000"/>
<rect x="620.4" y="277.7" width="2.35" height="24.7" fill="#008000"/>
<rect x="625.11" y="277.7" width="2.35" height="22.6" fill="#008000"/>
<rect x="629.81" y="277.7" width="2.35" height="19.1" fill="#008000"/>
<rect x="634.5" y="277.7" width="2.35" height="16" fill="#008000"/>
<rect x="639.21" y="277.7" width="2.35" height="13.2" fill="#008000"/>
<rect x="643.9" y="277.7" width="2.35" height="12.8" fill="#008000"/>
<rect x="648.61" y="277.7" width="2.35" height="12.8" fill="#ff0000"/>
<rect x="0" y="345.3" width="2.35" height="12.5" fill="#ff0000"/>
<rect x="4.71" y="345.3" width="2.35" height="16" fill="#ff0000"/>
<rect x="9.4" y="345.3" width="2.35" height="11.2" fill="#008000"/>
<rect x="14.11" y="344.6" width="2.35" height="0.8" fill="#008000"/>
<rect x="18.8" y="332.9" width="2.35" height="12.4" fill="#008000"/>
<rect x="23.5" y="323.6" width="2.35" height="21.7" fill="#008000"/>
<rect x="28.21" y="323.2" width="2.35" height="22.1" fill="#008000"/>
<rect x="32.91" y="327" width="2.35" height="18.3" fill="#ff0000"/>
<rect x="37.61" y="335.9" width="2.35" height="9.4" fill="#ff0000"/>
<rect x="42.31" y="340.6" width="2.35" height="4.7" fill="#ff0000"/>
<rect x="47.01" y="339.4" width="2.35" height="5.9" fill="#008000"/>
<rect x="51.71" y="335.4" width="2.35" height="9.9" fill="#008000"/>
<rect x="56.41" y="332.9" width="2.35" height="12.4" fill="#008000"/>
<rect x="61.11" y="333.6" width="2.35" height="11.7" fill="#ff0000"/>
<rect x="65.81" y="336.9" width="2.35" height="8.4" fill="#ff0000"/>
<rect x="70.51" y="344.6" width="2.35" height="0.8" fill="#ff0000"/>
<rect x="75.21" y="345.3" width="2.35" height="3.7" fill="#ff0000"/>
<rect x="79.91" y="345.3" width="2.35" height="3.7" fill="#ff0000"/>
<rect x="84.61" y="345.3" width="2.35" height="2.7" fill="#008000"/>
<rect x="89.31" y="345.3" width="2.35" height="2.7" fill="#ff0000"/>
<rect x="94.01" y="344.6" width="2.35" height="0.8" fill="#008000"/>
<rect x="98.71" y="345.2" width="2.35" height="0.8" fill="#ff0000"/>
<rect x="103.41" y="345.2" width="2.35" height="0.8" fill="#ff0000"/>
<rect x="108.11" y="345.3" width="2.35" height="1" fill="#ff0000"/>
<rect x="112.81" y="345.3" width="2.35" height="4.1" fill="#ff0000"/>
<rect x="117.51" y="345.3" width="2.35" height="7.4" fill="#ff0000"/>
<rect x="122.21" y="345.3" width="2.35" height="10.3" fill="#ff0000"/>
<rect x="126.91" y="345.3" width="2.35" height="17.4" fill="#ff0000"/>
<rect x="131.6" y="345.3" width="2.35" height="21.1" fill="#ff0000"/>
<rect x="136.31" y="345.3" width="2.35" height="18.5" fill="#008000"/>
<rect x="141" y="345.3" width="2.35" height="17.4" fill="#008000"/>
<rect x="145.71" y="345.3" width="2.35" height="17.4" fill="#008000"/>
<rect x="150.41" y="345.3" width="2.35" height="12.3" fill="#008000"/>
<rect x="155.1" y="345.3" width="2.35" height="6.8" fill="#008000"/>
<rect x="159.81" y="345.3" width="2.35" height="8.3" fill="#ff0000"/>
<rect x="164.5" y="345.3" width="2.35" height="10.5" fill="#ff0000"/>
<rect x="169.21" y="345.3" width="2.35" height="8.1" fill="#008000"/>
<rect x="173.91" y="345.3" width="2.35" height="3.4" fill="#008000"/>
<rect x="178.6" y="345.3" width="2.35" height="2.4" fill="#008000"/>
<rect x="183.31" y="345.3" width="2.35" height="1.5" fill="#008000"/>
<rect x="188" y="345.3" width="2.35" height="1.5" fill="#008000"/>
<rect x="192.71" y="344.6" width="2.35" height="0.7" fill="#008000"/>
<rect x="197.41" y="345.2" width="2.35" height="0.8" fill="#ff0000"/>
<rect x="202.1" y="345.3" width="2.35" height="3.4" fill="#ff0000"/>
<rect x="206.81" y="345.3" width="2.35" height="4.6" fill="#ff0000"/>
<rect x="211.5" y="345.3" width="2.35" height="4.1" fill="#008000"/>
<rect x="216.21" y="345.3" width="2.35" height="8.6" fill="#ff0000"/>
<rect x="220.91" y="345.3" width="2.35" height="7.4" fill="#008000"/>
<rect x="225.61" y="345.3" width="2.35" height="1.3" fill="#008000"/>
<rect x="230.31" y="344.3" width="2.35" height="1" fill="#008000"/>
<rect x="235" y="340.9" width="2.35" height="4.4" fill="#008000"/>
<rect x="239.71" y="339.1" width="2.35" height="6.2" fill="#008000"/>
<rect x="244.41" y="339.1" width="2.35" height="6.2" fill="#008000"/>
<rect x="249.11" y="341" width="2.35" height="4.3" fill="#ff0000"/>
<rect x="253.81" y="341.3" width="2.35" height="4" fill="#ff0000"/>
<rect x="258.5" y="343.8" width="2.35" height="1.5" fill="#ff0000"/>
<rect x="263.2" y="344.6" width="2.35" height="0.8" fill="#ff0000"/>
<rect x="267.91" y="345.3" width="2.35" height="7.4" fill="#ff0000"/>
<rect x="272.61" y="345.3" width="2.35" height="14.2" fill="#ff0000"/>
<rect x="277.31" y="345.3" width="2.35" height="17.9" fill="#ff0000"/>
<rect x="282" y="345.3" width="2.35" height="17.9" fill="#008000"/>
<rect x="286.7" y="345.3" width="2.35" height="18.5" fill="#ff0000"/>
<rect x="291.41" y="345.3" width="2.35" height="12.5" fill="#008000"/>
<rect x="296.11" y="345.3" width="2.35" height="4.1" fill="#008000"/>
<rect x="300.81" y="341.3" width="2.35" height="4" fill="#008000"/>
<rect x="305.5" y="335.7" width="2.35" height="9.6" fill="#008000"/>
<rect x="310.2" y="331.4" width="2.35" height="13.9" fill="#008000"/>
<rect x="314.91" y="330.3" width="2.35" height="15" fill="#008000"/>
<rect x="319.61" y="329.5" width="2.35" height="15.8" fill="#008000"/>
<rect x="324.31" y="329.1" width="2.35" height="16.2" fill="#008000"/>
<rect x="329" y="329.5" width="2.35" height="15.8" fill="#ff0000"/>
<rect x="333.7" y="334.2" width="2.35" height="11.1" fill="#ff0000"/>
<rect x="338.41" y="337.9" width="2.35" height="7.4" fill="#ff0000"/>
<rect x="343.11" y="340.3" width="2.35" height="5" fill="#ff0000"/>
<rect x="347.81" y="344.6" width="2.35" height="0.8" fill="#ff0000"/>
<rect x="352.5" y="345.3" width="2.35" height="2.4" fill="#ff0000"/>
<rect x="357.2" y="345.3" width="2.35" height="3" fill="#ff0000"/>
<rect x="361.91" y="345.3" width="2.35" height="4.6" fill="#ff0000"/>
<rect x="366.61" y="345.3" width="2.35" height="8.3" fill="#ff0000"/>
<rect x="371.31" y="345.3" width="2.35" height="10.5" fill="#ff0000"/>
<rect x="376" y="345.3" width="2.35" height="14.2" fill="#ff0000"/>
<rect x="380.7" y="345.3" width="2.35" height="12.5" fill="#008000"/>
<rect x="385.41" y="345.3" width="2.35" height="10.5" fill="#008000"/>
<rect x="390.11" y="345.3" width="2.35" height="10" fill="#008000"/>
<rect x="394.81" y="345.3" width="2.35" height="8.9" fill="#008000"/>
<rect x="399.5" y="345.3" width="2.35" height="6.3" fill="#008000"/>
<rect x="404.2" y="345.3" width="2.35" height="7.1" fill="#ff0000"/>
<rect x="408.91" y="345.3" width="2.35" height="6.3" fill="#008000"/>
<rect x="413.61" y="345.3" width="2.35" height="4.6" fill="#008000"/>
<rect x="418.31" y="345.3" width="2.35" height="1.5" fill="#008000"/>
<rect x="423" y="345.3" width="2.35" height="5.2" fill="#ff0000"/>
<rect x="427.7" y="345.3" width="2.35" height="8.1" fill="#ff0000"/>
<rect x="432.41" y="345.3" width="2.35" height="9.7" fill="#ff0000"/>
<rect x="437.11" y="345.3" width="2.35" height="9.3" fill="#008000"/>
<rect x="441.81" y="345.3" width="2.35" height="11.1" fill="#ff0000"/>
<rect x="446.5" y="345.3" width="2.35" height="5.3" fill="#008000"/>
<rect x="451.21" y="345.3" width="2.35" height="4.1" fill="#008000"/>
<rect x="455.91" y="342.1" width="2.35" height="3.2" fill="#008000"/>
<rect x="460.61" y="337.2" width="2.35" height="8.1" fill="#008000"/>
<rect x="465.31" y="332.8" width="2.35" height="12.5" fill="#008000"/>
<rect x="470" y="331.4" width="2.35" height="13.9" fill="#008000"/>
<rect x="474.71" y="331" width="2.35" height="14.3" fill="#008000"/>
<rect x="479.41" y="336.6" width="2.35" height="8.7" fill="#ff0000"/>
<rect x="484.11" y="340.9" width="2.35" height="4.4" fill="#ff0000"/>
<rect x="488.81" y="345.3" width="2.35" height="5.2" fill="#ff0000"/>
<rect x="493.5" y="345.3" width="2.35" height="12.5" fill="#ff0000"/>
<rect x="498.21" y="345.3" width="2.35" height="16.7" fill="#ff0000"/>
<rect x="502.91" y="345.3" width="2.35" height="20.4" fill="#ff0000"/>
<rect x="507.61" y="345.3" width="2.35" height="22.1" fill="#ff0000"/>
<rect x="512.31" y="345.3" width="2.35" height="14.2" fill="#008000"/>
<rect x="517" y="345.3" width="2.35" height="4.1" fill="#008000"/>
<rect x="521.71" y="339.8" width="2.35" height="5.5" fill="#008000"/>
<rect x="526.4" y="333.9" width="2.35" height="11.4" fill="#008000"/>
<rect x="531.11" y="334" width="2.35" height="11.3" fill="#ff0000"/>
<rect x="535.81" y="338.4" width="2.35" height="6.9" fill="#ff0000"/>
<rect x="540.5" y="341.3" width="2.35" height="4" fill="#ff0000"/>
<rect x="545.21" y="344.6" width="2.35" height="0.8" fill="#ff0000"/>
<rect x="549.9" y="345.3" width="2.35" height="1.2" fill="#ff0000"/>
<rect x="554.61" y="343.1" width="2.35" height="2.2" fill="#008000"/>
<rect x="559.31" y="336.6" width="2.35" height="8.7" fill="#008000"/>
<rect x="564" y="336.1" width="2.35" height="9.2" fill="#008000"/>
<rect x="568.71" y="338.4" width="2.35" height="6.9" fill="#ff0000"/>
<rect x="573.4" y="340.9" width="2.35" height="4.4" fill="#ff0000"/>
<rect x="578.11" y="344.6" width="2.35" height="0.8" fill="#ff0000"/>
<rect x="582.81" y="345.3" width="2.35" height="6.8" fill="#ff0000"/>
<rect x="587.5" y="345.3" width="2.35" height="15.7" fill="#ff0000"/>
<rect x="592.21" y="345.3" width="2.35" height="20.4" fill="#ff0000"/>
<rect x="596.9" y="345.3" width="2.35" height="20.4" fill="#008000"/>
<rect x="601.61" y="345.3" width="2.35" height="17.4" fill="#008000"/>
<rect x="606.31" y="345.3" width="2.35" height="13.7" fill="#008000"/>
<rect x="611" y="345.3" width="2.35" height="3.4" fill="#008000"/>
<rect x="615.71" y="340.9" width="2.35" height="4.4" fill="#008000"/>
<rect x="620.4" y="333.9" width="2.35" height="11.4" fill="#008000"/>
<rect x="625.11" y="328.5" width="2.35" height="16.8" fill="#008000"/>
<rect x="629.81" y="322.9" width="2.35" height="22.4" fill="#008000"/>
<rect x="634.5" y="319.7" width="2.35" height="25.6" fill="#008000"/>
<rect x="639.21" y="319.6" width="2.35" height="25.7" fill="#ff0000"/>
<rect x="643.9" y="327" width="2.35" height="18.3" fill="#ff0000"/>
<rect x="648.61" y="336.6" width="2.35" height="8.7" fill="#ff0000"/>
<rect x="0" y="402.5" width="2.35" height="3.4" fill="#008000"/>
<rect x="0" y="405.9" width="2.35" height="4.8" fill="#ff0000"/>
<rect x="4.71" y="401.4" width="2.35" height="4.5" fill="#008000"/>
<rect x="4.71" y="405.9" width="2.35" height="3.4" fill="#ff0000"/>
<rect x="9.4" y="400.9" width="2.35" height="5" fill="#008000"/>
<rect x="9.4" y="405.9" width="2.35" height="1" fill="#ff0000"/>
<rect x="14.11" y="402" width="2.35" height="3.9" fill="#ff0000"/>
<rect x="14.11" y="405.9" width="2.35" height="1.8" fill="#008000"/>
<rect x="18.8" y="403.5" width="2.35" height="2.4" fill="#ff0000"/>
<rect x="18.8" y="405.8" width="2.35" height="0.8" fill="#ff0000"/>
<rect x="23.5" y="405.1" width="2.35" height="0.8" fill="#ff0000"/>
<rect x="23.5" y="405.9" width="2.35" height="3.9" fill="#008000"/>
<rect x="28.21" y="405.1" width="2.35" height="0.8" fill="#ff0000"/>
<rect x="28.21" y="405.9" width="2.35" height="8" fill="#008000"/>
<rect x="32.91" y="403.1" width="2.35" height="2.8" fill="#008000"/>
<rect x="32.91" y="405.9" width="2.35" height="10.8" fill="#008000"/>
<rect x="37.61" y="399.3" width="2.35" height="6.6" fill="#008000"/>
<rect x="37.61" y="405.9" width="2.35" height="10.8" fill="#ff0000"/>
<rect x="42.31" y="396.6" width="2.35" height="9.3" fill="#008000"/>
<rect x="42.31" y="405.9" width="2.35" height="9.9" fill="#ff0000"/>
<rect x="47.01" y="395.1" width="2.35" height="10.8" fill="#008000"/>
<rect x="47.01" y="405.9" width="2.35" height="9.9" fill="#ff0000"/>
<rect x="51.71" y="395.1" width="2.35" height="10.8" fill="#ff0000"/>
<rect x="51.71" y="405.9" width="2.35" height="10.2" fill="#008000"/>
<rect x="56.41" y="395.1" width="2.35" height="10.8" fill="#ff0000"/>
<rect x="56.41" y="405.9" width="2.35" height="10.8" fill="#008000"/>
<rect x="61.11" y="395.4" width="2.35" height="10.5" fill="#008000"/>
<rect x="61.11" y="405.9" width="2.35" height="12.9" fill="#008000"/>
<rect x="65.81" y="394.2" width="2.35" height="11.7" fill="#008000"/>
<rect x="65.81" y="405.9" width="2.35" height="15" fill="#008000"/>
<rect x="70.51" y="392.4" width="2.35" height="13.5" fill="#008000"/>
<rect x="70.51" y="405.9" width="2.35" height="13.4" fill="#ff0000"/>
<rect x="75.21" y="391.3" width="2.35" height="14.6" fill="#008000"/>
<rect x="75.21" y="405.9" width="2.35" height="10.8" fill="#ff0000"/>
<rect x="79.91" y="390.7" width="2.35" height="15.2" fill="#008000"/>
<rect x="79.91" y="405.9" width="2.35" height="10.5" fill="#ff0000"/>
<rect x="84.61" y="391.9" width="2.35" height="14" fill="#ff0000"/>
<rect x="84.61" y="405.9" width="2.35" height="9.3" fill="#ff0000"/>
<rect x="89.31" y="392.5" width="2.35" height="13.4" fill="#ff0000"/>
<rect x="89.31" y="405.9" width="2.35" height="9.3" fill="#008000"/>
<rect x="94.01" y="393.1" width="2.35" height="12.8" fill="#ff0000"/>
<rect x="94.01" y="405.9" width="2.35" height="9.3" fill="#008000"/>
<rect x="98.71" y="393.1" width="2.35" height="12.8" fill="#008000"/>
<rect x="98.71" y="405.9" width="2.35" height="7.8" fill="#ff0000"/>
<rect x="103.41" y="393.1" width="2.35" height="12.8" fill="#ff0000"/>
<rect x="103.41" y="405.9" width="2.35" height="7.4" fill="#ff0000"/>
<rect x="108.11" y="393.7" width="2.35" height="12.2" fill="#ff0000"/>
<rect x="108.11" y="405.9" width="2.35" height="9" fill="#008000"/>
<rect x="112.81" y="393.7" width="2.35" height="12.2" fill="#ff0000"/>
<rect x="112.81" y="405.9" width="2.35" height="9" fill="#008000"/>
<rect x="117.51" y="393.1" width="2.35" height="12.8" fill="#008000"/>
<rect x="117.51" y="405.9" width="2.35" height="8.6" fill="#ff0000"/>
<rect x="122.21" y="393.1" width="2.35" height="12.8" fill="#008000"/>
<rect x="122.21" y="405.9" width="2.35" height="7.4" fill="#ff0000"/>
<rect x="126.91" y="393.1" width="2.35" height="12.8" fill="#008000"/>
<rect x="126.91" y="405.9" width="2.35" height="6.2" fill="#ff0000"/>
<rect x="131.6" y="393.7" width="2.35" height="12.2" fill="#ff0000"/>
<rect x="131.6" y="405.9" width="2.35" height="5" fill="#ff0000"/>
<rect x="136.31" y="394.9" width="2.35" height="11" fill="#ff0000"/>
<rect x="136.31" y="405.9" width="2.35" height="4.5" fill="#ff0000"/>
<rect x="141" y="395.4" width="2.35" height="10.5" fill="#ff0000"/>
<rect x="141" y="405.8" width="2.35" height="0.8" fill="#ff0000"/>
<rect x="145.71" y="396.1" width="2.35" height="9.8" fill="#ff0000"/>
<rect x="145.71" y="405.9" width="2.35" height="3.4" fill="#008000"/>
<rect x="150.41" y="399" width="2.35" height="6.9" fill="#ff0000"/>
<rect x="150.41" y="405.9" width="2.35" height="1.8" fill="#ff0000"/>
<rect x="155.1" y="402" width="2.35" height="3.9" fill="#ff0000"/>
<rect x="155.1" y="405.9" width="2.35" height="1" fill="#ff0000"/>
<rect x="159.81" y="403.1" width="2.35" height="2.8" fill="#ff0000"/>
<rect x="159.81" y="405.9" width="2.35" height="2" fill="#008000"/>
<rect x="164.5" y="403.1" width="2.35" height="2.8" fill="#008000"/>
<rect x="164.5" y="405.9" width="2.35" height="3.8" fill="#008000"/>
<rect x="169.21" y="403.1" width="2.35" height="2.8" fill="#ff0000"/>
<rect x="169.21" y="405.9" width="2.35" height="2.8" fill="#ff0000"/>
<rect x="173.91" y="404.7" width="2.35" height="1.2" fill="#ff0000"/>
<rect x="173.91" y="405.9" width="2.35" height="3" fill="#ff0000"/>
<rect x="178.6" y="405.2" width="2.35" height="0.8" fill="#ff0000"/>
<rect x="178.6" y="405.9" width="2.35" height="3.8" fill="#008000"/>
<rect x="183.31" y="405.2" width="2.35" height="0.8" fill="#ff0000"/>
<rect x="183.31" y="405.9" width="2.35" height="3.8" fill="#ff0000"/>
<rect x="188" y="405.2" width="2.35" height="0.8" fill="#ff0000"/>
<rect x="188" y="405.9" width="2.35" height="2.2" fill="#ff0000"/>
<rect x="192.71" y="405.1" width="2.35" height="0.8" fill="#008000"/>
<rect x="192.71" y="405.9" width="2.35" height="2.2" fill="#ff0000"/>
<rect x="197.41" y="405.2" width="2.35" height="0.8" fill="#008000"/>
<rect x="197.41" y="405.9" width="2.35" height="2.8" fill="#008000"/>
<rect x="202.1" y="405.2" width="2.35" height="0.8" fill="#008000"/>
<rect x="202.1" y="405.9" width="2.35" height="3.8" fill="#008000"/>
<rect x="206.81" y="405.1" width="2.35" height="0.8" fill="#008000"/>
<rect x="206.81" y="405.9" width="2.35" height="0.8" fill="#ff0000"/>
<rect x="211.5" y="404.9" width="2.35" height="1" fill="#008000"/>
<rect x="211.5" y="405.8" width="2.35" height="0.8" fill="#ff0000"/>
<rect x="216.21" y="405.1" width="2.35" height="0.8" fill="#ff0000"/>
<rect x="216.21" y="405.9" width="2.35" height="3.8" fill="#008000"/>
<rect x="220.91" y="405.2" width="2.35" height="0.8" fill="#ff0000"/>
<rect x="220.91" y="405.9" width="2.35" height="5.7" fill="#008000"/>
<rect x="225.61" y="404.7" width="2.35" height="1.2" fill="#008000"/>
<rect x="225.61" y="405.9" width="2.35" height="5.7" fill="#ff0000"/>
<rect x="230.31" y="402.3" width="2.35" height="3.6" fill="#008000"/>
<rect x="230.31" y="405.9" width="2.35" height="5" fill="#ff0000"/>
<rect x="235" y="401.7" width="2.35" height="4.2" fill="#008000"/>
<rect x="235" y="405.9" width="2.35" height="3.9" fill="#ff0000"/>
<rect x="239.71" y="402" width="2.35" height="3.9" fill="#ff0000"/>
<rect x="239.71" y="405.9" width="2.35" height="3.4" fill="#ff0000"/>
<rect x="244.41" y="402" width="2.35" height="3.9" fill="#ff0000"/>
<rect x="244.41" y="405.9" width="2.35" height="3.4" fill="#008000"/>
<rect x="249.11" y="402.3" width="2.35" height="3.6" fill="#ff0000"/>
<rect x="249.11" y="405.9" width="2.35" height="3.4" fill="#ff0000"/>
<rect x="253.81" y="402.3" width="2.35" height="3.6" fill="#008000"/>
<rect x="253.81" y="405.9" width="2.35" height="2.2" fill="#ff0000"/>
<rect x="258.5" y="403.3" width="2.35" height="2.6" fill="#ff0000"/>
<rect x="258.5" y="405.9" width="2.35" height="1" fill="#ff0000"/>
<rect x="263.2" y="403.3" width="2.35" height="2.6" fill="#ff0000"/>
<rect x="263.2" y="405.9" width="2.35" height="1.6" fill="#008000"/>
<rect x="267.91" y="404.3" width="2.35" height="1.6" fill="#ff0000"/>
<rect x="267.91" y="405.9" width="2.35" height="2.8" fill="#008000"/>
<rect x="272.61" y="403.7" width="2.35" height="2.2" fill="#008000"/>
<rect x="272.61" y="405.9" width="2.35" height="3.4" fill="#008000"/>
<rect x="277.31" y="403.7" width="2.35" height="2.2" fill="#008000"/>
<rect x="277.31" y="405.9" width="2.35" height="3.8" fill="#008000"/>
<rect x="282" y="402.3" width="2.35" height="3.6" fill="#008000"/>
<rect x="282" y="405.9" width="2.35" height="6.8" fill="#008000"/>
<rect x="286.7" y="402" width="2.35" height="3.9" fill="#008000"/>
<rect x="286.7" y="405.9" width="2.35" height="10.8" fill="#008000"/>
<rect x="291.41" y="399.6" width="2.35" height="6.3" fill="#008000"/>
<rect x="291.41" y="405.9" width="2.35" height="12.8" fill="#008000"/>
<rect x="296.11" y="397.3" width="2.35" height="8.6" fill="#008000"/>
<rect x="296.11" y="405.9" width="2.35" height="12" fill="#ff0000"/>
<rect x="300.81" y="394.9" width="2.35" height="11" fill="#008000"/>
<rect x="300.81" y="405.9" width="2.35" height="11.7" fill="#ff0000"/>
<rect x="305.5" y="393.7" width="2.35" height="12.2" fill="#008000"/>
<rect x="305.5" y="405.9" width="2.35" height="10.8" fill="#ff0000"/>
<rect x="310.2" y="393.1" width="2.35" height="12.8" fill="#008000"/>
<rect x="310.2" y="405.9" width="2.35" height="9.8" fill="#ff0000"/>
<rect x="314.91" y="393.7" width="2.35" height="12.2" fill="#ff0000"/>
<rect x="314.91" y="405.9" width="2.35" height="7.8" fill="#ff0000"/>
<rect x="319.61" y="394.3" width="2.35" height="11.6" fill="#ff0000"/>
<rect x="319.61" y="405.9" width="2.35" height="5.7" fill="#ff0000"/>
<rect x="324.31" y="395.5" width="2.35" height="10.4" fill="#ff0000"/>
<rect x="324.31" y="405.9" width="2.35" height="3.8" fill="#ff0000"/>
<rect x="329" y="396.7" width="2.35" height="9.2" fill="#ff0000"/>
<rect x="329" y="405.9" width="2.35" height="2.6" fill="#ff0000"/>
<rect x="333.7" y="398.5" width="2.35" height="7.4" fill="#ff0000"/>
<rect x="333.7" y="405.9" width="2.35" height="1.4" fill="#ff0000"/>
<rect x="338.41" y="399.7" width="2.35" height="6.2" fill="#ff0000"/>
<rect x="338.41" y="405.8" width="2.35" height="0.8" fill="#ff0000"/>
<rect x="343.11" y="400.2" width="2.35" height="5.7" fill="#ff0000"/>
<rect x="343.11" y="405.9" width="2.35" height="2" fill="#008000"/>
<rect x="347.81" y="402" width="2.35" height="3.9" fill="#ff0000"/>
<rect x="347.81" y="405.8" width="2.35" height="0.8" fill="#ff0000"/>
<rect x="352.5" y="403.5" width="2.35" height="2.4" fill="#ff0000"/>
<rect x="352.5" y="405.9" width="2.35" height="1" fill="#008000"/>
<rect x="357.2" y="403.1" width="2.35" height="2.8" fill="#008000"/>
<rect x="357.2" y="405.8" width="2.35" height="0.8" fill="#ff0000"/>
<rect x="361.91" y="403.1" width="2.35" height="2.8" fill="#008000"/>
<rect x="361.91" y="405.8" width="2.35" height="0.8" fill="#008000"/>
<rect x="366.61" y="402.3" width="2.35" height="3.6" fill="#008000"/>
<rect x="366.61" y="405.9" width="2.35" height="1" fill="#008000"/>
<rect x="371.31" y="402.1" width="2.35" height="3.8" fill="#ff0000"/>
<rect x="371.31" y="405.9" width="2.35" height="2" fill="#008000"/>
<rect x="376" y="403.1" width="2.35" height="2.8" fill="#ff0000"/>
<rect x="376" y="405.9" width="2.35" height="4.8" fill="#008000"/>
<rect x="380.7" y="402" width="2.35" height="3.9" fill="#008000"/>
<rect x="380.7" y="405.9" width="2.35" height="5.7" fill="#008000"/>
<rect x="385.41" y="400.9" width="2.35" height="5" fill="#008000"/>
<rect x="385.41" y="405.9" width="2.35" height="6.8" fill="#008000"/>
<rect x="390.11" y="399.6" width="2.35" height="6.3" fill="#008000"/>
<rect x="390.11" y="405.9" width="2.35" height="8.7" fill="#008000"/>
<rect x="394.81" y="398.4" width="2.35" height="7.5" fill="#008000"/>
<rect x="394.81" y="405.9" width="2.35" height="8.7" fill="#ff0000"/>
<rect x="399.5" y="397.3" width="2.35" height="8.6" fill="#008000"/>
<rect x="399.5" y="405.9" width="2.35" height="9" fill="#008000"/>
<rect x="404.2" y="396.7" width="2.35" height="9.2" fill="#008000"/>
<rect x="404.2" y="405.9" width="2.35" height="10.4" fill="#008000"/>
<rect x="408.91" y="396.1" width="2.35" height="9.8" fill="#008000"/>
<rect x="408.91" y="405.9" width="2.35" height="12" fill="#008000"/>
<rect x="413.61" y="394.9" width="2.35" height="11" fill="#008000"/>
<rect x="413.61" y="405.9" width="2.35" height="12" fill="#008000"/>
<rect x="418.31" y="393.9" width="2.35" height="12" fill="#008000"/>
<rect x="418.31" y="405.9" width="2.35" height="11.6" fill="#ff0000"/>
<rect x="423" y="393.1" width="2.35" height="12.8" fill="#008000"/>
<rect x="423" y="405.9" width="2.35" height="12" fill="#008000"/>
<rect x="427.7" y="392.4" width="2.35" height="13.5" fill="#008000"/>
<rect x="427.7" y="405.9" width="2.35" height="11.6" fill="#008000"/>
<rect x="432.41" y="391.9" width="2.35" height="14" fill="#008000"/>
<rect x="432.41" y="405.9" width="2.35" height="10.5" fill="#ff0000"/>
<rect x="437.11" y="391.2" width="2.35" height="14.7" fill="#008000"/>
<rect x="437.11" y="405.9" width="2.35" height="13.2" fill="#008000"/>
<rect x="441.81" y="391.9" width="2.35" height="14" fill="#ff0000"/>
<rect x="441.81" y="405.9" width="2.35" height="15" fill="#008000"/>
<rect x="446.5" y="390.1" width="2.35" height="15.8" fill="#008000"/>
<rect x="446.5" y="405.9" width="2.35" height="15" fill="#ff0000"/>
<rect x="451.21" y="388.9" width="2.35" height="17" fill="#008000"/>
<rect x="451.21" y="405.9" width="2.35" height="15" fill="#ff0000"/>
<rect x="455.91" y="387.1" width="2.35" height="18.8" fill="#008000"/>
<rect x="455.91" y="405.9" width="2.35" height="12.9" fill="#ff0000"/>
<rect x="460.61" y="387.7" width="2.35" height="18.2" fill="#ff0000"/>
<rect x="460.61" y="405.9" width="2.35" height="15" fill="#008000"/>
<rect x="465.31" y="387.7" width="2.35" height="18.2" fill="#ff0000"/>
<rect x="465.31" y="405.9" width="2.35" height="15" fill="#008000"/>
<rect x="470" y="387.7" width="2.35" height="18.2" fill="#008000"/>
<rect x="470" y="405.9" width="2.35" height="9.9" fill="#ff0000"/>
<rect x="474.71" y="387.1" width="2.35" height="18.8" fill="#008000"/>
<rect x="474.71" y="405.9" width="2.35" height="6.8" fill="#ff0000"/>
<rect x="479.41" y="389.4" width="2.35" height="16.5" fill="#ff0000"/>
<rect x="479.41" y="405.9" width="2.35" height="5.7" fill="#ff0000"/>
<rect x="484.11" y="391.2" width="2.35" height="14.7" fill="#ff0000"/>
<rect x="484.11" y="405.9" width="2.35" height="6" fill="#008000"/>
<rect x="488.81" y="393.7" width="2.35" height="12.2" fill="#ff0000"/>
<rect x="488.81" y="405.9" width="2.35" height="7.2" fill="#008000"/>
<rect x="493.5" y="393.7" width="2.35" height="12.2" fill="#008000"/>
<rect x="493.5" y="405.9" width="2.35" height="6.9" fill="#ff0000"/>
<rect x="498.21" y="393.1" width="2.35" height="12.8" fill="#008000"/>
<rect x="498.21" y="405.9" width="2.35" height="6.6" fill="#ff0000"/>
<rect x="502.91" y="392.4" width="2.35" height="13.5" fill="#008000"/>
<rect x="502.91" y="405.9" width="2.35" height="9.6" fill="#008000"/>
<rect x="507.61" y="393.1" width="2.35" height="12.8" fill="#ff0000"/>
<rect x="507.61" y="405.9" width="2.35" height="15" fill="#008000"/>
<rect x="512.31" y="391.2" width="2.35" height="14.7" fill="#008000"/>
<rect x="512.31" y="405.9" width="2.35" height="15" fill="#008000"/>
<rect x="517" y="388.2" width="2.35" height="17.7" fill="#008000"/>
<rect x="517" y="405.9" width="2.35" height="15" fill="#008000"/>
<rect x="521.71" y="385.2" width="2.35" height="20.7" fill="#008000"/>
<rect x="521.71" y="405.9" width="2.35" height="15" fill="#008000"/>
<rect x="526.4" y="383.8" width="2.35" height="22.1" fill="#008000"/>
<rect x="526.4" y="405.9" width="2.35" height="15" fill="#ff0000"/>
<rect x="531.11" y="382.9" width="2.35" height="23" fill="#008000"/>
<rect x="531.11" y="405.9" width="2.35" height="15" fill="#ff0000"/>
<rect x="535.81" y="383.5" width="2.35" height="22.4" fill="#ff0000"/>
<rect x="535.81" y="405.9" width="2.35" height="12.6" fill="#ff0000"/>
<rect x="540.5" y="384.7" width="2.35" height="21.2" fill="#ff0000"/>
<rect x="540.5" y="405.9" width="2.35" height="12" fill="#ff0000"/>
<rect x="545.21" y="386.5" width="2.35" height="19.4" fill="#ff0000"/>
<rect x="545.21" y="405.9" width="2.35" height="13.2" fill="#008000"/>
<rect x="549.9" y="387.1" width="2.35" height="18.8" fill="#ff0000"/>
<rect x="549.9" y="405.9" width="2.35" height="15" fill="#008000"/>
<rect x="554.61" y="386.5" width="2.35" height="19.4" fill="#008000"/>
<rect x="554.61" y="405.9" width="2.35" height="15" fill="#ff0000"/>
<rect x="559.31" y="385.2" width="2.35" height="20.7" fill="#008000"/>
<rect x="559.31" y="405.9" width="2.35" height="12.6" fill="#ff0000"/>
<rect x="564" y="385.2" width="2.35" height="20.7" fill="#008000"/>
<rect x="564" y="405.9" width="2.35" height="12.6" fill="#ff0000"/>
<rect x="568.71" y="385.9" width="2.35" height="20" fill="#ff0000"/>
<rect x="568.71" y="405.9" width="2.35" height="10.8" fill="#ff0000"/>
<rect x="573.4" y="386.5" width="2.35" height="19.4" fill="#ff0000"/>
<rect x="573.4" y="405.9" width="2.35" height="8" fill="#ff0000"/>
<rect x="578.11" y="387.1" width="2.35" height="18.8" fill="#ff0000"/>
<rect x="578.11" y="405.9" width="2.35" height="8.7" fill="#008000"/>
<rect x="582.81" y="388.9" width="2.35" height="17" fill="#ff0000"/>
<rect x="582.81" y="405.9" width="2.35" height="10.8" fill="#008000"/>
<rect x="587.5" y="389.4" width="2.35" height="16.5" fill="#ff0000"/>
<rect x="587.5" y="405.9" width="2.35" height="11.4" fill="#008000"/>
<rect x="592.21" y="388.9" width="2.35" height="17" fill="#008000"/>
<rect x="592.21" y="405.9" width="2.35" height="12" fill="#008000"/>
<rect x="596.9" y="387.7" width="2.35" height="18.2" fill="#008000"/>
<rect x="596.9" y="405.9" width="2.35" height="12" fill="#008000"/>
<rect x="601.61" y="387.1" width="2.35" height="18.8" fill="#008000"/>
<rect x="601.61" y="405.9" width="2.35" height="15" fill="#008000"/>
<rect x="606.31" y="387.1" width="2.35" height="18.8" fill="#008000"/>
<rect x="606.31" y="405.9" width="2.35" height="15" fill="#008000"/>
<rect x="611" y="383.5" width="2.35" height="22.4" fill="#008000"/>
<rect x="611" y="405.9" width="2.35" height="15" fill="#ff0000"/>
<rect x="615.71" y="380.8" width="2.35" height="25.1" fill="#008000"/>
<rect x="615.71" y="405.9" width="2.35" height="15" fill="#ff0000"/>
<rect x="620.4" y="379.3" width="2.35" height="26.6" fill="#008000"/>
<rect x="620.4" y="405.9" width="2.35" height="15" fill="#ff0000"/>
<rect x="625.11" y="380.2" width="2.35" height="25.7" fill="#ff0000"/>
<rect x="625.11" y="405.9" width="2.35" height="15" fill="#ff0000"/>
<rect x="629.81" y="381.1" width="2.35" height="24.8" fill="#ff0000"/>
<rect x="629.81" y="405.9" width="2.35" height="15" fill="#ff0000"/>
<rect x="634.5" y="381.1" width="2.35" height="24.8" fill="#ff0000"/>
<rect x="634.5" y="405.9" width="2.35" height="15" fill="#ff0000"/>
<rect x="639.21" y="381.1" width="2.35" height="24.8" fill="#008000"/>
<rect x="639.21" y="405.9" width="2.35" height="9.8" fill="#ff0000"/>
<rect x="643.9" y="383.2" width="2.35" height="22.7" fill="#ff0000"/>
<rect x="643.9" y="405.9" width="2.35" height="6" fill="#ff0000"/>
<rect x="648.61" y="385.2" width="2.35" height="20.7" fill="#ff0000"/>
<rect x="648.61" y="405.9" width="2.35" height="4.5" fill="#ff0000"/>
<rect x="653.31" y="389.4" width="2.35" height="16.5" fill="#ff0000"/>
<rect x="653.31" y="405.9" width="2.35" height="6.2" fill="#008000"/>
<rect x="658" y="391.3" width="2.35" height="14.6" fill="#ff0000"/>
<rect x="658" y="405.9" width="2.35" height="7.8" fill="#008000"/>
<rect x="662.71" y="391.3" width="2.35" height="14.6" fill="#ff0000"/>
<rect x="662.71" y="405.9" width="2.35" height="9" fill="#008000"/>
<rect x="667.4" y="390.1" width="2.35" height="15.8" fill="#008000"/>
<rect x="672.11" y="388.9" width="2.35" height="17" fill="#008000"/>
</g>
<rect x="1.1" y="0" width="1.25" height="420" fill="#555"/>
<rect x="723.6" y="0" width="1.3" height="420" fill="#868686"/>
<rect x="1.1" y="253" width="724" height="1.8" fill="#505050"/>
<rect x="1.1" y="313.1" width="724" height="1.8" fill="#505050"/>
<rect x="1.1" y="372.9" width="724" height="1.8" fill="#505050"/>
<defs><mask id="tm"><rect width="752" height="420" fill="#fff"/></mask></defs><g mask="url(#tm)">
<rect x="724" y="9" width="3.4" height="0.8" fill="#333"/>
<text x="727.6" y="11.4" fill="#111" stroke="#111" stroke-width="0.08" style="font-family:'Liberation Sans',sans-serif;font-size:5.2px">407.50</text>
<rect x="724" y="27.75" width="3.4" height="0.8" fill="#333"/>
<text x="727.6" y="30.15" fill="#111" stroke="#111" stroke-width="0.08" style="font-family:'Liberation Sans',sans-serif;font-size:5.2px">403.50</text>
<rect x="724" y="46.5" width="3.4" height="0.8" fill="#333"/>
<text x="727.6" y="48.9" fill="#111" stroke="#111" stroke-width="0.08" style="font-family:'Liberation Sans',sans-serif;font-size:5.2px">399.50</text>
<rect x="724" y="65.25" width="3.4" height="0.8" fill="#333"/>
<text x="727.6" y="67.65" fill="#111" stroke="#111" stroke-width="0.08" style="font-family:'Liberation Sans',sans-serif;font-size:5.2px">395.50</text>
<rect x="724" y="84" width="3.4" height="0.8" fill="#333"/>
<text x="727.6" y="86.4" fill="#111" stroke="#111" stroke-width="0.08" style="font-family:'Liberation Sans',sans-serif;font-size:5.2px">391.50</text>
<rect x="724" y="102.75" width="3.4" height="0.8" fill="#333"/>
<text x="727.6" y="105.15" fill="#111" stroke="#111" stroke-width="0.08" style="font-family:'Liberation Sans',sans-serif;font-size:5.2px">387.50</text>
<rect x="724" y="121.5" width="3.4" height="0.8" fill="#333"/>
<text x="727.6" y="123.9" fill="#111" stroke="#111" stroke-width="0.08" style="font-family:'Liberation Sans',sans-serif;font-size:5.2px">383.50</text>
<rect x="724" y="140.25" width="3.4" height="0.8" fill="#333"/>
<text x="727.6" y="142.65" fill="#111" stroke="#111" stroke-width="0.08" style="font-family:'Liberation Sans',sans-serif;font-size:5.2px">379.50</text>
<rect x="724" y="159" width="3.4" height="0.8" fill="#333"/>
<text x="727.6" y="161.4" fill="#111" stroke="#111" stroke-width="0.08" style="font-family:'Liberation Sans',sans-serif;font-size:5.2px">375.50</text>
<rect x="724" y="177.75" width="3.4" height="0.8" fill="#333"/>
<text x="727.6" y="180.15" fill="#111" stroke="#111" stroke-width="0.08" style="font-family:'Liberation Sans',sans-serif;font-size:5.2px">371.50</text>
<rect x="724" y="196.5" width="3.4" height="0.8" fill="#333"/>
<text x="727.6" y="198.9" fill="#111" stroke="#111" stroke-width="0.08" style="font-family:'Liberation Sans',sans-serif;font-size:5.2px">367.50</text>
<rect x="724" y="215.25" width="3.4" height="0.8" fill="#333"/>
<text x="727.6" y="217.65" fill="#111" stroke="#111" stroke-width="0.08" style="font-family:'Liberation Sans',sans-serif;font-size:5.2px">363.50</text>
<rect x="724" y="234" width="3.4" height="0.8" fill="#333"/>
<text x="727.6" y="236.4" fill="#111" stroke="#111" stroke-width="0.08" style="font-family:'Liberation Sans',sans-serif;font-size:5.2px">359.50</text>
<rect x="724" y="255.2" width="3.4" height="0.8" fill="#333"/>
<rect x="724" y="311.9" width="3.4" height="0.8" fill="#333"/>
<rect x="724" y="315.2" width="3.4" height="0.8" fill="#333"/>
<rect x="724" y="371.7" width="3.4" height="0.8" fill="#333"/>
<rect x="724" y="375" width="3.4" height="0.8" fill="#333"/>
<text x="727.7" y="259.2" fill="#111" stroke="#111" stroke-width="0.08" style="font-family:'Liberation Sans',sans-serif;font-size:5.2px">10.272</text>
<text x="727.2" y="311.9" fill="#111" stroke="#111" stroke-width="0.08" style="font-family:'Liberation Sans',sans-serif;font-size:5.2px">-15.605</text>
<text x="727.2" y="319.8" fill="#111" stroke="#111" stroke-width="0.08" style="font-family:'Liberation Sans',sans-serif;font-size:5.2px">3.1717</text>
<text x="727.2" y="371.8" fill="#111" stroke="#111" stroke-width="0.08" style="font-family:'Liberation Sans',sans-serif;font-size:5.2px">-2.8439</text>
<text x="727.2" y="379.5" fill="#111" stroke="#111" stroke-width="0.08" style="font-family:'Liberation Sans',sans-serif;font-size:5.2px">7.932</text>
<rect x="725.7" y="236.1" width="19.9" height="6.8" fill="#d80a0a"/>
<text x="727.5" y="241.8" fill="#fff" stroke="#fff" stroke-width="0.08" style="font-family:'Liberation Sans',sans-serif;font-size:5.2px">358.43</text>
<text x="3.5" y="261.9" fill="#111" stroke="#111" stroke-width="0.08" style="font-family:'Liberation Sans',sans-serif;font-size:5.4px">AOcust -5.873</text>
<text x="3.3" y="321.8" fill="#111" stroke="#111" stroke-width="0.08" style="font-family:'Liberation Sans',sans-serif;font-size:5.4px">ACcust 0.8670</text>
<text x="3.6" y="382" fill="#111" stroke="#111" stroke-width="0.08" style="font-family:'Liberation Sans',sans-serif;font-size:5.4px">GatorCust 4.231 -2.290</text>
</g>
</svg>
</body></html>
